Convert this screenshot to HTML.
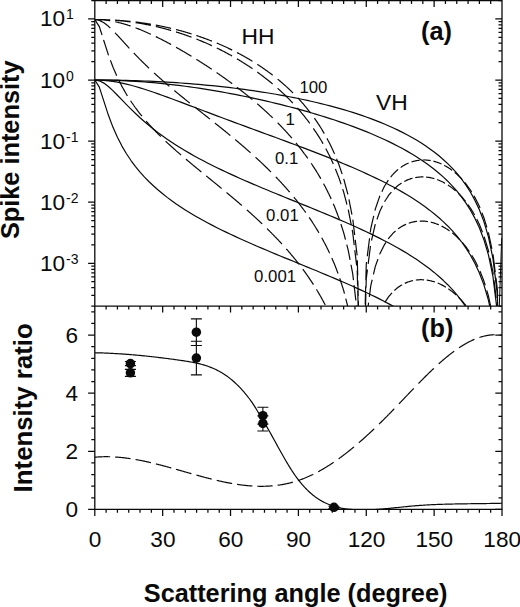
<!DOCTYPE html>
<html><head><meta charset="utf-8"><title>Spike intensity vs scattering angle</title>
<style>
html,body{margin:0;padding:0;background:#fff;}
body{width:520px;height:607px;overflow:hidden;font-family:"Liberation Sans",sans-serif;}
svg{display:block;}
text{font-family:"Liberation Sans",sans-serif;}
.tl{font-size:22.6px;}
.sup{font-size:14.0px;}
.big{font-size:22.8px;}
.pl{font-size:25.3px;font-weight:bold;}
.sm{font-size:16.8px;}
.ax{font-size:25.3px;font-weight:bold;}
</style></head><body>
<svg width="520" height="607" viewBox="0 0 520 607">
<rect width="520" height="607" fill="#fff"/>
<clipPath id="ca"><rect x="94.8" y="0.5" width="407.2" height="305.55"/></clipPath>
<clipPath id="cb"><rect x="94.8" y="306.05" width="407.2" height="203.34999999999997"/></clipPath>
<g clip-path="url(#ca)" fill="none" stroke="#0a0a0a" stroke-width="1.2" stroke-linejoin="round">
<path d="M94.80,80.01 L99.32,80.01 L103.85,80.04 L108.37,80.08 L112.90,80.14 L117.42,80.21 L121.95,80.30 L126.47,80.41 L131.00,80.53 L135.52,80.67 L140.04,80.83 L144.57,81.00 L149.09,81.19 L153.62,81.40 L158.14,81.62 L162.67,81.86 L167.19,82.12 L171.72,82.40 L176.24,82.69 L180.76,83.01 L185.29,83.34 L189.81,83.69 L194.34,84.06 L198.86,84.44 L203.39,84.85 L207.91,85.28 L212.44,85.72 L216.96,86.19 L221.48,86.67 L226.01,87.18 L230.53,87.71 L235.06,88.26 L239.58,88.83 L244.11,89.42 L248.63,90.04 L253.16,90.68 L257.68,91.35 L262.20,92.04 L266.73,92.75 L271.25,93.49 L275.78,94.26 L280.30,95.06 L284.83,95.88 L289.35,96.74 L293.88,97.62 L298.40,98.53 L302.92,99.48 L307.45,100.46 L311.97,101.48 L316.50,102.53 L321.02,103.62 L325.55,104.75 L330.07,105.92 L334.60,107.13 L339.12,108.39 L343.64,109.69 L348.17,111.04 L352.69,112.44 L357.22,113.90 L361.74,115.42 L366.27,117.00 L370.79,118.64 L375.32,120.35 L379.84,122.13 L384.36,123.99 L388.89,125.94 L393.41,127.98 L397.94,130.11 L402.46,132.35 L406.99,134.71 L411.51,137.19 L416.04,139.81 L420.56,142.58 L425.08,145.52 L429.61,148.65 L434.13,152.00 L438.66,155.58 L443.18,159.44 L447.71,163.63 L452.23,168.19 L456.76,173.19 L461.28,178.73 L465.80,184.94 L470.33,191.99 L474.85,200.14 L479.38,209.79 L483.90,221.61 L488.43,236.86 L492.95,258.37 L497.48,295.15 L502.00,2000.00"/>
<path d="M94.80,80.01 L99.32,80.02 L103.85,80.07 L108.37,80.15 L112.90,80.26 L117.42,80.41 L121.95,80.59 L126.47,80.79 L131.00,81.03 L135.52,81.31 L140.04,81.61 L144.57,81.94 L149.09,82.30 L153.62,82.69 L158.14,83.12 L162.67,83.57 L167.19,84.05 L171.72,84.55 L176.24,85.09 L180.76,85.65 L185.29,86.24 L189.81,86.86 L194.34,87.50 L198.86,88.17 L203.39,88.87 L207.91,89.59 L212.44,90.33 L216.96,91.10 L221.48,91.90 L226.01,92.72 L230.53,93.56 L235.06,94.43 L239.58,95.32 L244.11,96.24 L248.63,97.18 L253.16,98.14 L257.68,99.13 L262.20,100.14 L266.73,101.18 L271.25,102.24 L275.78,103.33 L280.30,104.44 L284.83,105.58 L289.35,106.75 L293.88,107.94 L298.40,109.16 L302.92,110.41 L307.45,111.69 L311.97,113.00 L316.50,114.34 L321.02,115.72 L325.55,117.13 L330.07,118.57 L334.60,120.05 L339.12,121.57 L343.64,123.14 L348.17,124.74 L352.69,126.39 L357.22,128.09 L361.74,129.84 L366.27,131.65 L370.79,133.51 L375.32,135.44 L379.84,137.43 L384.36,139.49 L388.89,141.64 L393.41,143.86 L397.94,146.18 L402.46,148.59 L406.99,151.11 L411.51,153.75 L416.04,156.52 L420.56,159.44 L425.08,162.52 L429.61,165.78 L434.13,169.24 L438.66,172.94 L443.18,176.91 L447.71,181.19 L452.23,185.84 L456.76,190.93 L461.28,196.54 L465.80,202.82 L470.33,209.93 L474.85,218.13 L479.38,227.82 L483.90,239.67 L488.43,254.95 L492.95,276.48 L497.48,313.28 L502.00,2000.00"/>
<path d="M94.80,80.01 L99.32,80.09 L103.85,80.36 L108.37,80.80 L112.90,81.40 L117.42,82.15 L121.95,83.05 L126.47,84.08 L131.00,85.22 L135.52,86.47 L140.04,87.81 L144.57,89.23 L149.09,90.71 L153.62,92.25 L158.14,93.83 L162.67,95.45 L167.19,97.10 L171.72,98.77 L176.24,100.46 L180.76,102.16 L185.29,103.87 L189.81,105.58 L194.34,107.29 L198.86,109.00 L203.39,110.71 L207.91,112.42 L212.44,114.12 L216.96,115.82 L221.48,117.52 L226.01,119.21 L230.53,120.89 L235.06,122.57 L239.58,124.24 L244.11,125.91 L248.63,127.58 L253.16,129.24 L257.68,130.91 L262.20,132.57 L266.73,134.23 L271.25,135.89 L275.78,137.56 L280.30,139.22 L284.83,140.90 L289.35,142.58 L293.88,144.26 L298.40,145.95 L302.92,147.66 L307.45,149.37 L311.97,151.10 L316.50,152.84 L321.02,154.60 L325.55,156.38 L330.07,158.18 L334.60,160.00 L339.12,161.85 L343.64,163.72 L348.17,165.62 L352.69,167.56 L357.22,169.53 L361.74,171.54 L366.27,173.59 L370.79,175.70 L375.32,177.85 L379.84,180.05 L384.36,182.32 L388.89,184.66 L393.41,187.07 L397.94,189.56 L402.46,192.14 L406.99,194.82 L411.51,197.61 L416.04,200.52 L420.56,203.57 L425.08,206.77 L429.61,210.15 L434.13,213.72 L438.66,217.52 L443.18,221.58 L447.71,225.95 L452.23,230.68 L456.76,235.84 L461.28,241.52 L465.80,247.85 L470.33,255.01 L474.85,263.25 L479.38,272.98 L483.90,284.86 L488.43,300.17 L492.95,321.71 L497.48,358.52 L502.00,2000.00"/>
<path d="M94.80,80.01 L99.32,80.81 L103.85,83.09 L108.37,86.50 L112.90,90.66 L117.42,95.21 L121.95,99.89 L126.47,104.56 L131.00,109.12 L135.52,113.51 L140.04,117.71 L144.57,121.73 L149.09,125.55 L153.62,129.20 L158.14,132.69 L162.67,136.02 L167.19,139.20 L171.72,142.26 L176.24,145.20 L180.76,148.03 L185.29,150.76 L189.81,153.39 L194.34,155.95 L198.86,158.43 L203.39,160.83 L207.91,163.18 L212.44,165.46 L216.96,167.69 L221.48,169.88 L226.01,172.01 L230.53,174.11 L235.06,176.17 L239.58,178.20 L244.11,180.19 L248.63,182.16 L253.16,184.10 L257.68,186.03 L262.20,187.93 L266.73,189.82 L271.25,191.69 L275.78,193.55 L280.30,195.40 L284.83,197.24 L289.35,199.08 L293.88,200.92 L298.40,202.75 L302.92,204.59 L307.45,206.43 L311.97,208.27 L316.50,210.12 L321.02,211.99 L325.55,213.86 L330.07,215.75 L334.60,217.66 L339.12,219.59 L343.64,221.53 L348.17,223.51 L352.69,225.51 L357.22,227.55 L361.74,229.62 L366.27,231.73 L370.79,233.89 L375.32,236.09 L379.84,238.35 L384.36,240.66 L388.89,243.04 L393.41,245.49 L397.94,248.02 L402.46,250.64 L406.99,253.35 L411.51,256.17 L416.04,259.11 L420.56,262.19 L425.08,265.42 L429.61,268.82 L434.13,272.41 L438.66,276.23 L443.18,280.31 L447.71,284.70 L452.23,289.44 L456.76,294.61 L461.28,300.31 L465.80,306.65 L470.33,313.82 L474.85,322.07 L479.38,331.81 L483.90,343.70 L488.43,359.01 L492.95,380.55 L497.48,417.36 L502.00,2000.00"/>
<path d="M94.80,80.01 L99.32,87.07 L103.85,101.18 L108.37,115.08 L112.90,127.09 L117.42,137.30 L121.95,146.08 L126.47,153.74 L131.00,160.52 L135.52,166.59 L140.04,172.09 L144.57,177.11 L149.09,181.75 L153.62,186.05 L158.14,190.06 L162.67,193.83 L167.19,197.38 L171.72,200.74 L176.24,203.94 L180.76,206.99 L185.29,209.92 L189.81,212.72 L194.34,215.42 L198.86,218.03 L203.39,220.55 L207.91,222.99 L212.44,225.36 L216.96,227.67 L221.48,229.93 L226.01,232.13 L230.53,234.29 L235.06,236.40 L239.58,238.47 L244.11,240.51 L248.63,242.52 L253.16,244.50 L257.68,246.46 L262.20,248.39 L266.73,250.31 L271.25,252.20 L275.78,254.09 L280.30,255.96 L284.83,257.83 L289.35,259.68 L293.88,261.54 L298.40,263.39 L302.92,265.24 L307.45,267.09 L311.97,268.95 L316.50,270.82 L321.02,272.69 L325.55,274.58 L330.07,276.48 L334.60,278.40 L339.12,280.33 L343.64,282.29 L348.17,284.28 L352.69,286.29 L357.22,288.33 L361.74,290.41 L366.27,292.53 L370.79,294.69 L375.32,296.90 L379.84,299.16 L384.36,301.48 L388.89,303.86 L393.41,306.32 L397.94,308.85 L402.46,311.47 L406.99,314.19 L411.51,317.01 L416.04,319.96 L420.56,323.04 L425.08,326.27 L429.61,329.67 L434.13,333.27 L438.66,337.09 L443.18,341.17 L447.71,345.56 L452.23,350.30 L456.76,355.48 L461.28,361.17 L465.80,367.52 L470.33,374.69 L474.85,382.94 L479.38,392.68 L483.90,404.57 L488.43,419.88 L492.95,441.43 L497.48,478.23 L502.00,2000.00"/>
<path d="M94.80,19.53 L95.42,19.53 L96.03,19.53 L96.65,19.54 L97.27,19.54 L97.88,19.55 L98.50,19.55 L99.12,19.55 L99.74,19.56 L100.35,19.58 L100.97,19.59 L101.59,19.60 L102.20,19.61 L102.82,19.63 L103.44,19.64 L104.05,19.65 L104.67,19.67 L105.29,19.69 L105.91,19.71 L106.52,19.74 L107.14,19.76 L107.76,19.78 L108.37,19.80 L108.99,19.83 L109.61,19.85 L110.22,19.88 L110.22,19.88 M115.16,20.14 L115.78,20.18 L116.39,20.22 L117.01,20.26 L117.63,20.30 L118.24,20.34 L118.86,20.39 L119.48,20.43 L120.10,20.48 L120.71,20.52 L121.33,20.57 L121.95,20.61 L122.56,20.67 L123.18,20.72 L123.80,20.78 L124.41,20.83 L125.03,20.88 L125.65,20.94 L126.27,20.99 L126.88,21.05 L127.50,21.11 L128.12,21.18 L128.73,21.24 L129.35,21.30 L129.97,21.36 L130.58,21.43 L130.58,21.43 M135.52,21.99 L136.14,22.07 L136.75,22.14 L137.37,22.22 L137.99,22.30 L138.60,22.38 L139.22,22.46 L139.84,22.54 L140.46,22.63 L141.07,22.72 L141.69,22.80 L142.31,22.89 L142.92,22.98 L143.54,23.07 L144.16,23.16 L144.77,23.25 L145.39,23.34 L146.01,23.44 L146.63,23.54 L147.24,23.63 L147.86,23.73 L148.48,23.83 L149.09,23.93 L149.71,24.03 L150.33,24.14 L150.94,24.24 L150.94,24.24 M155.78,25.10 L156.37,25.21 L156.96,25.32 L157.55,25.43 L158.14,25.54 L158.73,25.66 L159.32,25.78 L159.91,25.90 L160.50,26.02 L161.09,26.14 L161.68,26.26 L162.27,26.37 L162.86,26.50 L163.45,26.62 L164.04,26.75 L164.63,26.88 L165.22,27.01 L165.81,27.13 L166.40,27.26 L166.99,27.39 L167.58,27.52 L168.17,27.66 L168.76,27.80 L169.35,27.93 L169.95,28.07 L170.54,28.21 L171.13,28.34 L171.13,28.34 M176.04,29.55 L176.63,29.70 L177.22,29.86 L177.81,30.01 L178.40,30.17 L178.99,30.32 L179.58,30.48 L180.17,30.63 L180.76,30.79 L181.35,30.95 L181.94,31.12 L182.53,31.28 L183.13,31.45 L183.72,31.61 L184.31,31.78 L184.90,31.95 L185.49,32.11 L186.08,32.29 L186.67,32.46 L187.26,32.64 L187.85,32.81 L188.44,32.99 L189.03,33.16 L189.62,33.34 L190.21,33.52 L190.80,33.71 L191.39,33.89 L191.58,33.95 M196.30,35.47 L196.90,35.66 L197.49,35.86 L198.08,36.05 L198.67,36.25 L199.26,36.45 L199.85,36.66 L200.44,36.87 L201.03,37.07 L201.62,37.28 L202.21,37.49 L202.80,37.69 L203.39,37.90 L203.95,38.11 L204.52,38.31 L205.08,38.52 L205.65,38.73 L206.21,38.94 L206.78,39.15 L207.35,39.36 L207.91,39.56 L208.48,39.78 L209.04,40.00 L209.61,40.22 L210.17,40.44 L210.74,40.66 L211.30,40.88 L211.87,41.10 L211.87,41.10 M216.77,43.09 L217.34,43.33 L217.90,43.57 L218.47,43.81 L219.03,44.05 L219.60,44.30 L220.16,44.54 L220.73,44.78 L221.30,45.02 L221.86,45.27 L222.43,45.53 L222.99,45.78 L223.56,46.04 L224.12,46.29 L224.69,46.55 L225.25,46.80 L225.82,47.06 L226.37,47.31 L226.91,47.57 L227.46,47.83 L228.00,48.08 L228.54,48.34 L229.09,48.60 L229.63,48.85 L230.17,49.11 L230.71,49.37 L231.26,49.64 L231.80,49.91 L232.16,50.09 M237.05,52.57 L237.59,52.85 L238.13,53.13 L238.68,53.41 L239.22,53.70 L239.76,53.98 L240.31,54.28 L240.85,54.58 L241.39,54.88 L241.93,55.17 L242.48,55.47 L243.02,55.77 L243.56,56.06 L244.11,56.36 L244.63,56.66 L245.15,56.96 L245.67,57.26 L246.19,57.56 L246.72,57.86 L247.24,58.16 L247.76,58.46 L248.28,58.76 L248.81,59.06 L249.33,59.38 L249.85,59.69 L250.37,60.01 L250.89,60.32 L251.42,60.64 L251.94,60.95 L252.46,61.27 L252.46,61.27 M257.33,64.33 L257.85,64.66 L258.35,65.00 L258.85,65.33 L259.36,65.67 L259.86,66.00 L260.36,66.34 L260.86,66.67 L261.37,67.01 L261.87,67.34 L262.37,67.68 L262.87,68.03 L263.38,68.39 L263.88,68.74 L264.38,69.09 L264.89,69.44 L265.39,69.80 L265.89,70.15 L266.39,70.50 L266.89,70.85 L267.38,71.21 L267.86,71.57 L268.34,71.93 L268.83,72.28 L269.31,72.64 L269.80,73.00 L270.28,73.36 L270.77,73.71 L271.25,74.07 L271.74,74.45 L272.22,74.83 L272.71,75.20 L272.71,75.20 M277.65,79.13 L278.12,79.51 L278.59,79.90 L279.05,80.28 L279.52,80.67 L279.99,81.05 L280.46,81.44 L280.93,81.85 L281.39,82.25 L281.86,82.66 L282.33,83.07 L282.80,83.47 L283.27,83.88 L283.73,84.29 L284.20,84.69 L284.67,85.10 L285.13,85.51 L285.58,85.93 L286.03,86.35 L286.49,86.76 L286.94,87.18 L287.39,87.59 L287.84,88.01 L288.30,88.43 L288.75,88.84 L289.20,89.26 L289.64,89.68 L290.08,90.11 L290.52,90.54 L290.96,90.97 L291.39,91.40 L291.83,91.82 L292.27,92.25 L292.71,92.68 L293.00,92.97 M297.69,97.80 L298.12,98.24 L298.54,98.69 L298.95,99.14 L299.36,99.60 L299.77,100.06 L300.18,100.52 L300.59,100.98 L301.00,101.43 L301.42,101.89 L301.83,102.35 L302.24,102.81 L302.65,103.27 L303.05,103.73 L303.44,104.19 L303.83,104.65 L304.22,105.12 L304.60,105.58 L304.99,106.04 L305.38,106.51 L305.77,106.97 L306.16,107.43 L306.54,107.90 L306.93,108.36 L307.32,108.82 L307.70,109.30 L308.08,109.79 L308.45,110.27 L308.83,110.76 L309.21,111.25 L309.59,111.73 L309.96,112.22 L310.34,112.70 L310.72,113.19 L310.72,113.19 M314.35,118.14 L314.71,118.64 L315.07,119.14 L315.43,119.64 L315.78,120.14 L316.14,120.64 L316.50,121.14 L316.83,121.65 L317.16,122.15 L317.49,122.66 L317.82,123.17 L318.15,123.67 L318.48,124.18 L318.82,124.68 L319.15,125.19 L319.48,125.70 L319.81,126.20 L320.14,126.71 L320.47,127.22 L320.80,127.72 L321.13,128.23 L321.43,128.75 L321.74,129.27 L322.05,129.80 L322.36,130.32 L322.67,130.84 L322.98,131.36 L323.28,131.88 L323.59,132.40 L323.90,132.92 L324.21,133.44 L324.31,133.61 M326.96,138.36 L327.24,138.89 L327.53,139.43 L327.81,139.96 L328.09,140.49 L328.37,141.03 L328.66,141.56 L328.94,142.09 L329.22,142.63 L329.51,143.16 L329.79,143.69 L330.07,144.23 L330.33,144.77 L330.58,145.32 L330.84,145.87 L331.10,146.42 L331.35,146.96 L331.61,147.51 L331.86,148.06 L332.12,148.61 L332.38,149.16 L332.63,149.70 L332.89,150.25 L333.14,150.80 L333.40,151.35 L333.66,151.90 L333.91,152.44 L334.17,152.99 L334.42,153.54 L334.60,153.90 M336.56,158.77 L336.78,159.33 L337.01,159.89 L337.23,160.45 L337.46,161.01 L337.69,161.57 L337.91,162.14 L338.14,162.70 L338.37,163.26 L338.59,163.82 L338.82,164.38 L339.04,164.94 L339.25,165.51 L339.44,166.09 L339.64,166.66 L339.83,167.24 L340.02,167.82 L340.22,168.39 L340.41,168.97 L340.61,169.54 L340.80,170.12 L340.99,170.69 L341.19,171.27 L341.38,171.84 L341.58,172.42 L341.77,173.00 L341.96,173.57 L342.16,174.15 L342.16,174.15 M343.75,178.95 L343.90,179.53 L344.06,180.11 L344.22,180.69 L344.37,181.27 L344.53,181.86 L344.68,182.44 L344.84,183.02 L345.00,183.60 L345.15,184.18 L345.31,184.76 L345.46,185.35 L345.62,185.93 L345.78,186.51 L345.93,187.09 L346.09,187.67 L346.24,188.25 L346.40,188.84 L346.56,189.42 L346.71,190.00 L346.87,190.58 L347.02,191.16 L347.18,191.74 L347.34,192.33 L347.49,192.91 L347.65,193.49 L347.80,194.07 L347.91,194.46 M348.94,199.37 L349.06,199.96 L349.17,200.55 L349.29,201.14 L349.41,201.73 L349.52,202.32 L349.64,202.91 L349.75,203.50 L349.87,204.09 L349.99,204.68 L350.10,205.27 L350.22,205.86 L350.33,206.46 L350.45,207.05 L350.57,207.64 L350.68,208.23 L350.80,208.82 L350.91,209.41 L351.03,210.00 L351.15,210.59 L351.26,211.18 L351.38,211.77 L351.49,212.36 L351.61,212.95 L351.73,213.54 L351.84,214.13 L351.96,214.73 L351.96,214.73 M352.84,219.66 L352.91,220.26 L352.98,220.85 L353.05,221.45 L353.12,222.04 L353.19,222.64 L353.26,223.24 L353.34,223.83 L353.41,224.43 L353.48,225.03 L353.55,225.62 L353.62,226.22 L353.69,226.82 L353.76,227.41 L353.84,228.01 L353.91,228.60 L353.98,229.20 L354.05,229.80 L354.12,230.39 L354.19,230.99 L354.26,231.59 L354.34,232.18 L354.41,232.78 L354.48,233.38 L354.55,233.97 L354.62,234.57 L354.67,234.97 M355.27,239.94 L355.34,240.53 L355.41,241.13 L355.48,241.72 L355.55,242.32 L355.62,242.92 L355.69,243.51 L355.77,244.11 L355.84,244.71 L355.91,245.30 L355.98,245.90 L356.05,246.49 L356.12,247.09 L356.19,247.69 L356.27,248.28 L356.34,248.88 L356.41,249.48 L356.48,250.07 L356.55,250.67 L356.62,251.27 L356.69,251.86 L356.77,252.46 L356.84,253.05 L356.91,253.65 L356.98,254.25 L357.05,254.84 L357.12,255.44 L357.12,255.44 M357.32,260.23 L357.33,260.83 L357.35,261.43 L357.36,262.03 L357.38,262.63 L357.39,263.23 L357.41,263.83 L357.42,264.43 L357.44,265.03 L357.45,265.63 L357.47,266.23 L357.48,266.83 L357.50,267.43 L357.51,268.03 L357.53,268.63 L357.54,269.23 L357.56,269.83 L357.57,270.43 L357.59,271.03 L357.60,271.63 L357.62,272.23 L357.64,272.83 L357.65,273.43 L357.67,274.03 L357.68,274.63 L357.70,275.23 L357.71,275.63 M357.83,280.63 L357.85,281.23 L357.86,281.83 L357.88,282.43 L357.89,283.03 L357.91,283.63 L357.92,284.23 L357.94,284.83 L357.95,285.43 L357.97,286.03 L357.98,286.63 L358.00,287.23 L358.01,287.83 L358.03,288.43 L358.04,289.03 L358.06,289.63 L358.07,290.23 L358.09,290.83 L358.10,291.43 L358.12,292.03 L358.13,292.63 L358.15,293.23 L358.16,293.83 L358.18,294.43 L358.19,295.03 L358.21,295.63 L358.22,296.03 M358.34,300.83 L358.35,301.43 L358.37,302.03 L358.38,302.63 L358.40,303.23 L358.41,303.83 L358.43,304.43 L358.44,305.03 L358.46,305.63 L358.47,306.23 L358.49,306.83 L358.50,307.43 L358.52,308.03 L358.53,308.63 L358.55,309.23 L358.57,309.83 L358.58,310.43 L358.60,311.03 L358.61,311.63 L358.63,312.23 L358.64,312.83 L358.66,313.43 L358.67,314.03 L358.69,314.63 L358.70,315.23 L358.72,315.83 L358.73,316.23 M364.85,317.98 L364.87,317.38 L364.88,316.78 L364.90,316.18 L364.91,315.58 L364.93,314.98 L364.95,314.38 L364.96,313.78 L364.98,313.18 L364.99,312.58 L365.01,311.98 L365.03,311.38 L365.04,310.78 L365.05,310.58 M365.20,304.58 L365.22,303.97 L365.24,303.37 L365.25,302.77 L365.27,302.17 L365.28,301.57 L365.30,300.97 L365.31,300.37 L365.33,299.77 L365.35,299.17 L365.36,298.57 L365.38,297.97 L365.39,297.37 L365.41,296.77 L365.42,296.17 L365.44,295.57 L365.46,294.97 L365.47,294.37 L365.49,293.77 L365.50,293.17 L365.52,292.57 L365.54,291.97 L365.55,291.37 L365.57,290.77 L365.58,290.17 L365.60,289.57 L365.61,288.97 L365.63,288.37 L365.65,287.77 L365.66,287.17 L365.68,286.57 L365.69,286.17 M365.85,280.17 L365.86,279.57 L365.88,278.97 L365.89,278.37 L365.91,277.77 L365.92,277.17 L365.94,276.57 L365.96,275.97 L365.97,275.37 L365.99,274.77 L366.00,274.17 L366.02,273.57 L366.04,272.97 L366.05,272.37 L366.07,271.77 L366.08,271.17 L366.10,270.57 L366.11,269.97 L366.13,269.37 L366.15,268.76 L366.16,268.16 L366.18,267.56 L366.19,266.96 L366.21,266.36 L366.22,265.76 L366.24,265.16 L366.26,264.56 L366.29,263.96 L366.37,263.37 L366.44,262.77 L366.52,262.17 L366.54,261.98 M367.28,256.21 L367.35,255.61 L367.43,255.01 L367.51,254.42 L367.58,253.82 L367.66,253.22 L367.73,252.63 L367.81,252.03 L367.88,251.43 L367.96,250.84 L368.04,250.24 L368.11,249.64 L368.19,249.05 L368.26,248.45 L368.34,247.85 L368.42,247.26 L368.49,246.66 L368.57,246.06 L368.64,245.47 L368.72,244.87 L368.79,244.27 L368.87,243.68 L368.95,243.08 L369.02,242.48 L369.10,241.88 L369.17,241.29 L369.25,240.69 L369.33,240.09 L369.40,239.50 L369.48,238.90 L369.55,238.30 L369.55,238.30 M370.29,232.54 L370.36,231.94 L370.44,231.34 L370.51,230.75 L370.59,230.15 L370.66,229.55 L370.74,228.96 L370.84,228.36 L370.97,227.77 L371.11,227.19 L371.24,226.60 L371.38,226.01 L371.52,225.42 L371.65,224.84 L371.79,224.25 L371.92,223.66 L372.06,223.08 L372.19,222.49 L372.33,221.90 L372.47,221.31 L372.60,220.73 L372.74,220.14 L372.87,219.55 L373.01,218.96 L373.14,218.38 L373.28,217.79 L373.42,217.20 L373.55,216.62 L373.69,216.03 L373.73,215.83 M374.95,210.55 L375.09,209.96 L375.23,209.37 L375.38,208.79 L375.58,208.22 L375.77,207.65 L375.97,207.09 L376.17,206.52 L376.36,205.95 L376.56,205.38 L376.76,204.82 L376.95,204.25 L377.15,203.68 L377.35,203.11 L377.54,202.54 L377.74,201.98 L377.94,201.41 L378.14,200.84 L378.33,200.27 L378.53,199.70 L378.73,199.14 L378.92,198.57 L379.12,198.00 L379.32,197.43 L379.51,196.87 L379.71,196.30 L379.93,195.74 L379.93,195.74 M381.84,191.73 L382.10,191.19 L382.36,190.64 L382.62,190.09 L382.89,189.55 L383.15,189.00 L383.41,188.46 L383.67,187.91 L383.93,187.36 L384.19,186.82 L384.47,186.28 L384.80,185.77 L385.12,185.26 L385.44,184.75 L385.76,184.24 L386.09,183.73 L386.41,183.22 L386.73,182.71 L387.06,182.20 L387.38,181.69 L387.70,181.18 L388.03,180.66 L388.35,180.15 L388.35,180.15 M390.70,177.09 L391.09,176.62 L391.47,176.15 L391.86,175.68 L392.25,175.20 L392.64,174.73 L393.03,174.26 L393.41,173.78 L393.85,173.37 L394.29,172.95 L394.73,172.54 L395.16,172.12 L395.60,171.71 L396.04,171.29 L396.48,170.88 L396.92,170.46 L397.35,170.05 L397.79,169.64 L398.10,169.38 M400.68,167.49 L401.17,167.14 L401.65,166.78 L402.14,166.43 L402.64,166.09 L403.19,165.79 L403.73,165.49 L404.27,165.19 L404.81,164.89 L405.36,164.59 L405.90,164.29 L406.44,163.99 L406.99,163.69 L407.55,163.47 L408.12,163.24 L408.68,163.02 L408.68,163.02 M411.51,161.89 L412.10,161.74 L412.69,161.58 L413.28,161.43 L413.87,161.27 L414.46,161.12 L415.05,160.97 L415.64,160.81 L416.24,160.68 L416.86,160.59 L417.48,160.51 L418.09,160.42 L418.71,160.34 L419.33,160.25 L419.74,160.19 M422.41,160.03 L423.03,160.02 L423.64,160.00 L424.26,159.99 L424.88,159.97 L425.50,160.01 L426.11,160.06 L426.73,160.12 L427.35,160.17 L427.96,160.23 L428.58,160.29 L429.20,160.34 L429.81,160.42 L430.40,160.54 L430.59,160.59 M433.35,161.16 L433.94,161.28 L434.53,161.45 L435.12,161.64 L435.71,161.83 L436.30,162.02 L436.89,162.21 L437.48,162.40 L438.07,162.59 L438.66,162.78 L439.22,163.03 L439.79,163.27 L440.35,163.52 L440.92,163.77 L441.49,164.02 L441.49,164.02 M444.27,165.36 L444.81,165.66 L445.35,165.97 L445.90,166.27 L446.44,166.57 L446.98,166.87 L447.53,167.17 L448.04,167.50 L448.54,167.85 L449.05,168.19 L449.55,168.53 L450.05,168.87 L450.56,169.22 L451.06,169.56 L451.56,169.90 L452.06,170.25 L452.23,170.36 M454.73,172.40 L455.20,172.79 L455.66,173.17 L456.13,173.56 L456.60,173.94 L457.05,174.35 L457.49,174.78 L457.92,175.20 L458.36,175.63 L458.80,176.06 L459.24,176.48 L459.67,176.91 L460.11,177.34 L460.55,177.76 L460.99,178.19 L461.41,178.63 L461.81,179.09 L462.21,179.55 L462.34,179.70 M464.74,182.47 L465.14,182.93 L465.54,183.39 L465.92,183.86 L466.28,184.35 L466.64,184.84 L467.00,185.33 L467.35,185.82 L467.71,186.31 L468.07,186.79 L468.42,187.28 L468.78,187.77 L469.14,188.26 L469.50,188.75 L469.85,189.24 L470.21,189.73 L470.54,190.24 L470.85,190.76 L471.17,191.28 L471.49,191.80 L471.70,192.14 M473.91,195.77 L474.22,196.29 L474.54,196.81 L474.85,197.32 L475.12,197.87 L475.40,198.41 L475.67,198.95 L475.94,199.50 L476.21,200.04 L476.48,200.58 L476.75,201.13 L477.03,201.67 L477.30,202.21 L477.57,202.75 L477.84,203.30 L478.11,203.84 L478.38,204.38 L478.65,204.93 L478.93,205.47 L479.20,206.01 L479.45,206.56 L479.67,207.12 L479.90,207.68 L480.05,208.05 M481.90,212.70 L482.12,213.25 L482.34,213.81 L482.57,214.37 L482.79,214.93 L483.01,215.48 L483.23,216.04 L483.46,216.60 L483.68,217.16 L483.90,217.71 L484.08,218.29 L484.25,218.87 L484.43,219.45 L484.61,220.03 L484.78,220.61 L484.96,221.19 L485.14,221.77 L485.31,222.35 L485.49,222.93 L485.66,223.51 L485.84,224.09 L486.02,224.67 L486.19,225.25 L486.37,225.83 L486.55,226.41 L486.72,226.99 L486.84,227.38 M488.37,232.40 L488.51,232.99 L488.64,233.58 L488.76,234.17 L488.89,234.76 L489.01,235.35 L489.14,235.94 L489.26,236.53 L489.39,237.12 L489.52,237.71 L489.64,238.30 L489.77,238.89 L489.89,239.48 L490.02,240.07 L490.14,240.66 L490.27,241.25 L490.40,241.84 L490.52,242.43 L490.65,243.02 L490.77,243.61 L490.90,244.20 L491.02,244.79 L491.15,245.38 L491.28,245.97 L491.40,246.56 L491.53,247.15 L491.65,247.75 L491.78,248.34 L491.90,248.93 L491.90,248.93 M493.02,254.44 L493.10,255.04 L493.17,255.64 L493.25,256.23 L493.32,256.83 L493.39,257.43 L493.47,258.02 L493.54,258.62 L493.62,259.22 L493.69,259.82 L493.76,260.41 L493.84,261.01 L493.91,261.61 L493.98,262.20 L494.06,262.80 L494.13,263.40 L494.21,264.00 L494.28,264.59 L494.35,265.19 L494.43,265.79 L494.50,266.38 L494.57,266.98 L494.65,267.58 L494.72,268.18 L494.80,268.77 L494.87,269.37 L494.94,269.97 L495.02,270.57 L495.09,271.16 L495.16,271.76 L495.21,272.16 M495.93,277.93 L496.00,278.53 L496.07,279.13 L496.15,279.72 L496.22,280.32 L496.30,280.92 L496.37,281.51 L496.44,282.11 L496.52,282.71 L496.59,283.31 L496.66,283.90 L496.74,284.50 L496.81,285.10 L496.89,285.69 L496.96,286.29 L497.03,286.89 L497.11,287.49 L497.18,288.08 L497.25,288.68 L497.33,289.28 L497.40,289.87 L497.48,290.47 L497.48,291.07 L497.48,291.67 L497.48,292.27 L497.48,292.87 L497.48,293.47 L497.49,294.07 L497.49,294.67 L497.49,295.27 L497.49,295.87 L497.49,296.07 M497.51,302.07 L497.51,302.67 L497.51,303.27 L497.51,303.87 L497.51,304.47 L497.51,305.07 L497.52,305.67 L497.52,306.27 L497.52,306.87 L497.52,307.47 L497.52,308.07 L497.52,308.67 L497.53,309.27 L497.53,309.87 L497.53,310.47 L497.53,311.07 L497.53,311.67 L497.53,312.27 L497.53,312.87 L497.54,313.47 L497.54,314.07 L497.54,314.67 L497.54,315.27 L497.54,315.87 L497.54,316.47 L497.55,317.07 L497.55,317.67 L497.55,317.87 M94.80,19.53 L95.42,19.53 L96.03,19.54 L96.65,19.54 L97.27,19.55 L97.88,19.55 L98.50,19.56 L99.12,19.56 L99.74,19.57 L100.35,19.59 L100.97,19.61 L101.59,19.62 L102.20,19.64 L102.82,19.65 L103.44,19.67 L104.05,19.69 L104.67,19.71 L105.29,19.74 L105.91,19.76 L106.52,19.79 L107.14,19.82 L107.76,19.84 L108.37,19.87 L108.99,19.91 L109.61,19.94 L110.22,19.98 L110.22,19.98 M115.16,20.31 L115.78,20.35 L116.39,20.40 L117.01,20.45 L117.63,20.50 L118.24,20.56 L118.86,20.61 L119.48,20.67 L120.10,20.73 L120.71,20.79 L121.33,20.84 L121.95,20.90 L122.56,20.97 L123.18,21.04 L123.80,21.10 L124.41,21.17 L125.03,21.24 L125.65,21.31 L126.27,21.37 L126.88,21.45 L127.50,21.53 L128.12,21.61 L128.73,21.68 L129.35,21.76 L129.97,21.84 L130.58,21.92 L130.58,21.92 M135.52,22.62 L136.14,22.72 L136.75,22.82 L137.37,22.92 L137.99,23.02 L138.60,23.12 L139.22,23.22 L139.84,23.32 L140.46,23.42 L141.07,23.53 L141.69,23.64 L142.31,23.75 L142.92,23.86 L143.54,23.97 L144.16,24.08 L144.77,24.19 L145.36,24.31 L145.95,24.42 L146.54,24.54 L147.13,24.65 L147.72,24.77 L148.31,24.88 L148.90,25.00 L149.49,25.12 L150.08,25.25 L150.67,25.37 L150.86,25.41 M155.78,26.50 L156.37,26.63 L156.96,26.77 L157.55,26.90 L158.14,27.04 L158.73,27.18 L159.32,27.33 L159.91,27.48 L160.50,27.62 L161.09,27.77 L161.68,27.91 L162.27,28.06 L162.86,28.21 L163.45,28.37 L164.04,28.52 L164.63,28.68 L165.22,28.83 L165.81,28.99 L166.40,29.15 L166.99,29.30 L167.58,29.47 L168.17,29.63 L168.76,29.80 L169.35,29.97 L169.95,30.13 L170.54,30.30 L171.13,30.47 L171.13,30.47 M176.04,31.93 L176.63,32.12 L177.22,32.31 L177.81,32.49 L178.40,32.68 L178.99,32.87 L179.58,33.06 L180.17,33.25 L180.76,33.44 L181.35,33.63 L181.94,33.83 L182.53,34.03 L183.13,34.23 L183.72,34.43 L184.31,34.63 L184.90,34.83 L185.48,35.03 L186.04,35.23 L186.61,35.43 L187.17,35.63 L187.74,35.83 L188.31,36.03 L188.87,36.23 L189.44,36.44 L190.00,36.64 L190.57,36.85 L191.13,37.06 L191.51,37.20 M196.41,39.08 L196.98,39.30 L197.54,39.53 L198.11,39.75 L198.67,39.97 L199.24,40.20 L199.80,40.44 L200.37,40.67 L200.94,40.90 L201.50,41.14 L202.07,41.37 L202.63,41.61 L203.20,41.84 L203.76,42.08 L204.33,42.33 L204.89,42.57 L205.46,42.82 L206.03,43.06 L206.59,43.31 L207.16,43.55 L207.72,43.80 L208.29,44.05 L208.85,44.31 L209.42,44.56 L209.98,44.82 L210.55,45.08 L211.12,45.33 L211.68,45.59 L211.87,45.68 M216.78,48.00 L217.32,48.26 L217.86,48.53 L218.41,48.80 L218.95,49.07 L219.49,49.34 L220.04,49.61 L220.58,49.88 L221.12,50.15 L221.67,50.43 L222.21,50.71 L222.75,50.99 L223.29,51.27 L223.84,51.55 L224.38,51.84 L224.92,52.12 L225.47,52.40 L226.01,52.68 L226.55,52.98 L227.09,53.27 L227.64,53.57 L228.18,53.86 L228.72,54.16 L229.27,54.45 L229.81,54.75 L230.35,55.04 L230.88,55.34 L231.40,55.63 L231.93,55.93 L232.10,56.03 M236.97,58.83 L237.49,59.14 L238.02,59.45 L238.54,59.76 L239.06,60.07 L239.58,60.38 L240.10,60.70 L240.63,61.03 L241.15,61.35 L241.67,61.67 L242.19,61.99 L242.71,62.32 L243.24,62.64 L243.76,62.96 L244.28,63.29 L244.80,63.63 L245.32,63.96 L245.85,64.30 L246.37,64.64 L246.89,64.97 L247.41,65.31 L247.94,65.65 L248.46,65.98 L248.97,66.32 L249.47,66.66 L249.97,67.00 L250.47,67.34 L250.98,67.68 L251.48,68.02 L251.98,68.36 L252.49,68.70 L252.49,68.70 M257.34,72.10 L257.84,72.46 L258.33,72.81 L258.81,73.17 L259.30,73.53 L259.78,73.89 L260.27,74.24 L260.75,74.60 L261.23,74.96 L261.72,75.31 L262.20,75.67 L262.69,76.05 L263.17,76.42 L263.66,76.79 L264.14,77.17 L264.63,77.54 L265.11,77.92 L265.60,78.29 L266.08,78.66 L266.57,79.04 L267.04,79.42 L267.51,79.79 L267.98,80.17 L268.45,80.55 L268.91,80.93 L269.38,81.31 L269.85,81.69 L270.32,82.06 L270.79,82.44 L271.25,82.82 L271.72,83.22 L272.19,83.62 L272.66,84.01 L272.66,84.01 M277.59,88.27 L278.04,88.68 L278.49,89.08 L278.94,89.48 L279.40,89.89 L279.85,90.29 L280.30,90.69 L280.74,91.10 L281.18,91.51 L281.62,91.92 L282.05,92.33 L282.49,92.75 L282.93,93.16 L283.37,93.57 L283.81,93.98 L284.24,94.39 L284.68,94.80 L285.12,95.22 L285.56,95.66 L285.99,96.09 L286.43,96.52 L286.87,96.96 L287.31,97.39 L287.75,97.82 L288.18,98.26 L288.62,98.69 L289.06,99.12 L289.49,99.56 L289.92,100.00 L290.34,100.45 L290.76,100.89 L291.19,101.33 L291.61,101.78 L292.04,102.22 L292.46,102.67 L292.89,103.11 L292.89,103.11 M297.30,107.95 L297.71,108.40 L298.13,108.86 L298.53,109.32 L298.93,109.79 L299.33,110.26 L299.73,110.73 L300.13,111.20 L300.53,111.68 L300.93,112.15 L301.33,112.62 L301.73,113.09 L302.13,113.56 L302.53,114.03 L302.92,114.50 L303.30,114.98 L303.68,115.45 L304.06,115.93 L304.43,116.40 L304.81,116.88 L305.19,117.36 L305.56,117.83 L305.94,118.31 L306.32,118.78 L306.69,119.26 L307.07,119.73 L307.45,120.21 L307.81,120.69 L308.16,121.18 L308.52,121.66 L308.88,122.14 L309.23,122.63 L309.59,123.11 L309.83,123.43 M313.33,128.32 L313.67,128.82 L314.01,129.31 L314.35,129.81 L314.69,130.31 L315.03,130.80 L315.37,131.30 L315.71,131.80 L316.05,132.29 L316.38,132.79 L316.71,133.30 L317.04,133.81 L317.36,134.33 L317.68,134.84 L318.01,135.36 L318.33,135.87 L318.65,136.38 L318.98,136.90 L319.30,137.41 L319.62,137.93 L319.94,138.44 L320.27,138.96 L320.59,139.47 L320.91,139.99 L321.22,140.51 L321.52,141.04 L321.83,141.57 L322.13,142.09 L322.43,142.62 L322.73,143.15 L323.03,143.68 L323.03,143.68 M325.82,148.61 L326.10,149.15 L326.38,149.69 L326.65,150.23 L326.93,150.77 L327.21,151.31 L327.49,151.85 L327.76,152.39 L328.04,152.93 L328.32,153.47 L328.59,154.01 L328.87,154.54 L329.15,155.08 L329.42,155.62 L329.70,156.16 L329.98,156.70 L330.24,157.25 L330.49,157.80 L330.74,158.35 L330.99,158.91 L331.24,159.46 L331.50,160.01 L331.75,160.57 L332.00,161.12 L332.25,161.67 L332.50,162.22 L332.75,162.78 L333.00,163.33 L333.25,163.88 L333.25,163.88 M335.41,168.90 L335.63,169.47 L335.86,170.03 L336.08,170.60 L336.30,171.16 L336.52,171.73 L336.75,172.29 L336.97,172.86 L337.19,173.42 L337.41,173.99 L337.64,174.55 L337.86,175.12 L338.08,175.68 L338.30,176.25 L338.53,176.81 L338.75,177.38 L338.97,177.94 L339.18,178.51 L339.37,179.08 L339.56,179.65 L339.75,180.22 L339.94,180.79 L340.13,181.36 L340.31,181.93 L340.50,182.50 L340.69,183.07 L340.88,183.64 L341.07,184.21 L341.07,184.21 M342.70,189.16 L342.89,189.73 L343.08,190.30 L343.27,190.87 L343.46,191.44 L343.64,192.01 L343.80,192.59 L343.95,193.18 L344.11,193.76 L344.26,194.34 L344.42,194.93 L344.57,195.51 L344.72,196.09 L344.88,196.68 L345.03,197.26 L345.19,197.85 L345.34,198.43 L345.50,199.01 L345.65,199.60 L345.80,200.18 L345.96,200.76 L346.11,201.35 L346.27,201.93 L346.42,202.52 L346.58,203.10 L346.73,203.68 L346.88,204.27 L346.99,204.66 M348.25,209.52 L348.36,210.12 L348.48,210.71 L348.59,211.30 L348.71,211.89 L348.82,212.48 L348.94,213.08 L349.05,213.67 L349.17,214.26 L349.28,214.85 L349.40,215.44 L349.51,216.04 L349.63,216.63 L349.74,217.22 L349.86,217.81 L349.97,218.40 L350.09,219.00 L350.20,219.59 L350.32,220.18 L350.43,220.77 L350.55,221.37 L350.66,221.96 L350.78,222.55 L350.89,223.14 L351.01,223.73 L351.12,224.33 L351.24,224.92 L351.24,224.92 M352.19,229.85 L352.31,230.44 L352.42,231.03 L352.54,231.63 L352.65,232.22 L352.74,232.81 L352.81,233.41 L352.88,234.01 L352.95,234.61 L353.02,235.20 L353.10,235.80 L353.17,236.40 L353.24,236.99 L353.31,237.59 L353.38,238.19 L353.45,238.78 L353.52,239.38 L353.59,239.98 L353.66,240.58 L353.74,241.17 L353.81,241.77 L353.88,242.37 L353.95,242.96 L354.02,243.56 L354.09,244.16 L354.16,244.75 L354.21,245.15 M354.80,250.13 L354.87,250.72 L354.94,251.32 L355.01,251.92 L355.09,252.52 L355.16,253.11 L355.23,253.71 L355.30,254.31 L355.37,254.90 L355.44,255.50 L355.51,256.10 L355.58,256.69 L355.65,257.29 L355.73,257.89 L355.80,258.49 L355.87,259.08 L355.94,259.68 L356.01,260.28 L356.08,260.87 L356.15,261.47 L356.22,262.07 L356.29,262.66 L356.37,263.26 L356.44,263.86 L356.51,264.46 L356.58,265.05 L356.63,265.45 M357.22,270.43 L357.23,271.03 L357.25,271.63 L357.26,272.23 L357.28,272.83 L357.29,273.43 L357.31,274.03 L357.32,274.63 L357.34,275.23 L357.35,275.83 L357.37,276.43 L357.38,277.03 L357.40,277.63 L357.41,278.23 L357.43,278.83 L357.44,279.43 L357.46,280.03 L357.47,280.63 L357.49,281.23 L357.50,281.83 L357.52,282.43 L357.53,283.03 L357.55,283.63 L357.56,284.23 L357.58,284.83 L357.59,285.43 L357.60,285.83 M357.72,290.63 L357.74,291.23 L357.76,291.83 L357.77,292.43 L357.79,293.03 L357.80,293.63 L357.82,294.23 L357.83,294.83 L357.85,295.43 L357.86,296.03 L357.88,296.63 L357.89,297.23 L357.91,297.83 L357.92,298.43 L357.94,299.03 L357.95,299.63 L357.97,300.23 L357.98,300.83 L358.00,301.43 L358.01,302.03 L358.03,302.63 L358.04,303.23 L358.06,303.83 L358.07,304.43 L358.09,305.03 L358.10,305.63 L358.11,306.03 M358.24,311.03 L358.25,311.63 L358.27,312.23 L358.28,312.83 L358.30,313.43 L358.31,314.03 L358.33,314.63 L358.34,315.23 L358.36,315.83 L358.37,316.43 L358.39,317.03 L358.40,317.63 L358.41,318.03 M365.39,312.02 L365.41,311.42 L365.42,310.82 L365.44,310.22 L365.46,309.62 L365.47,309.02 L365.49,308.42 L365.50,307.82 L365.52,307.22 L365.53,306.62 L365.55,306.02 L365.57,305.42 L365.58,304.82 L365.60,304.22 L365.61,303.62 L365.63,303.02 L365.65,302.42 L365.66,301.82 L365.68,301.22 L365.69,300.62 L365.71,300.02 L365.72,299.42 L365.74,298.82 L365.76,298.22 L365.77,297.62 L365.79,297.02 L365.80,296.42 L365.82,295.82 L365.83,295.22 L365.85,294.62 L365.87,294.02 L365.88,293.62 M366.03,287.62 L366.05,287.02 L366.07,286.42 L366.08,285.82 L366.10,285.22 L366.11,284.62 L366.13,284.02 L366.15,283.42 L366.16,282.82 L366.18,282.22 L366.19,281.62 L366.21,281.02 L366.22,280.42 L366.24,279.82 L366.26,279.22 L366.29,278.62 L366.37,278.02 L366.44,277.43 L366.52,276.83 L366.60,276.23 L366.67,275.64 L366.75,275.04 L366.83,274.44 L366.90,273.85 L366.98,273.25 L367.05,272.65 L367.13,272.06 L367.21,271.46 L367.28,270.87 L367.36,270.27 L367.44,269.67 L367.46,269.47 M368.17,263.91 L368.25,263.31 L368.33,262.72 L368.40,262.12 L368.48,261.52 L368.55,260.93 L368.63,260.33 L368.71,259.73 L368.78,259.14 L368.86,258.54 L368.94,257.94 L369.01,257.35 L369.09,256.75 L369.16,256.16 L369.24,255.56 L369.32,254.96 L369.39,254.37 L369.47,253.77 L369.55,253.17 L369.62,252.58 L369.70,251.98 L369.77,251.38 L369.85,250.79 L369.93,250.19 L370.00,249.60 L370.08,249.00 L370.16,248.40 L370.23,247.81 L370.31,247.21 L370.38,246.61 L370.46,246.02 L370.46,246.02 M371.48,240.50 L371.61,239.91 L371.75,239.33 L371.89,238.74 L372.03,238.15 L372.16,237.57 L372.30,236.98 L372.44,236.39 L372.57,235.81 L372.71,235.22 L372.85,234.63 L372.98,234.05 L373.12,233.46 L373.26,232.87 L373.40,232.29 L373.53,231.70 L373.67,231.11 L373.81,230.53 L373.94,229.94 L374.08,229.35 L374.22,228.76 L374.36,228.18 L374.49,227.59 L374.63,227.00 L374.77,226.42 L374.90,225.83 L375.04,225.24 L375.18,224.66 L375.32,224.07 L375.32,224.07 M376.98,219.35 L377.18,218.78 L377.38,218.21 L377.58,217.64 L377.78,217.08 L377.98,216.51 L378.18,215.94 L378.38,215.38 L378.58,214.81 L378.78,214.24 L378.98,213.68 L379.17,213.11 L379.37,212.54 L379.57,211.97 L379.77,211.41 L380.02,210.86 L380.28,210.31 L380.55,209.77 L380.82,209.22 L381.08,208.68 L381.35,208.13 L381.61,207.59 L381.88,207.04 L382.15,206.50 L382.41,205.95 L382.50,205.77 M384.47,201.79 L384.81,201.28 L385.14,200.77 L385.47,200.26 L385.80,199.75 L386.13,199.24 L386.46,198.73 L386.79,198.22 L387.12,197.71 L387.45,197.20 L387.79,196.70 L388.12,196.19 L388.45,195.68 L388.78,195.17 L389.16,194.68 L389.55,194.21 L389.95,193.74 L390.35,193.27 L390.75,192.80 L391.15,192.33 L391.42,192.02 M393.87,189.26 L394.32,188.85 L394.77,188.44 L395.22,188.02 L395.68,187.61 L396.13,187.20 L396.58,186.79 L397.03,186.38 L397.49,185.97 L397.94,185.56 L398.44,185.21 L398.94,184.87 L399.45,184.52 L399.95,184.17 L400.45,183.82 L400.95,183.47 L401.46,183.12 L401.62,183.01 M404.27,181.50 L404.81,181.22 L405.36,180.94 L405.90,180.66 L406.44,180.38 L406.99,180.10 L407.55,179.89 L408.12,179.69 L408.68,179.48 L409.25,179.28 L409.81,179.07 L410.38,178.87 L410.95,178.66 L411.51,178.46 L412.10,178.32 L412.49,178.23 M415.25,177.60 L415.84,177.47 L416.45,177.38 L417.06,177.31 L417.68,177.25 L418.30,177.18 L418.91,177.11 L419.53,177.05 L420.15,176.98 L420.77,176.94 L421.38,176.94 L422.00,176.95 L422.62,176.95 L423.23,176.95 L423.44,176.95 M426.11,177.09 L426.73,177.16 L427.35,177.23 L427.96,177.31 L428.58,177.38 L429.20,177.46 L429.81,177.55 L430.40,177.69 L430.99,177.83 L431.58,177.97 L432.17,178.11 L432.76,178.24 L433.35,178.38 L433.94,178.52 L434.33,178.64 M437.08,179.59 L437.67,179.80 L438.26,180.00 L438.85,180.23 L439.41,180.49 L439.98,180.75 L440.54,181.01 L441.11,181.27 L441.67,181.53 L442.24,181.79 L442.81,182.05 L443.36,182.32 L443.88,182.63 L444.40,182.93 L444.92,183.23 L445.10,183.33 M447.87,184.96 L448.38,185.31 L448.88,185.66 L449.38,186.01 L449.89,186.37 L450.39,186.72 L450.89,187.07 L451.39,187.43 L451.90,187.78 L452.39,188.14 L452.86,188.54 L453.32,188.93 L453.79,189.32 L454.26,189.71 L454.73,190.10 L455.20,190.50 L455.66,190.89 L455.66,190.89 M458.22,193.25 L458.65,193.68 L459.09,194.12 L459.53,194.55 L459.97,194.98 L460.40,195.42 L460.84,195.85 L461.28,196.29 L461.68,196.75 L462.08,197.22 L462.48,197.69 L462.88,198.15 L463.28,198.62 L463.68,199.09 L464.07,199.55 L464.47,200.02 L464.87,200.48 L465.27,200.95 L465.54,201.26 M467.95,204.54 L468.30,205.03 L468.66,205.53 L469.02,206.02 L469.38,206.51 L469.73,207.01 L470.09,207.50 L470.43,208.01 L470.75,208.53 L471.07,209.05 L471.38,209.57 L471.70,210.09 L472.01,210.62 L472.33,211.14 L472.64,211.66 L472.96,212.18 L473.28,212.70 L473.59,213.23 L473.91,213.75 L474.22,214.27 L474.54,214.79 L474.64,214.96 M476.75,219.13 L477.03,219.68 L477.30,220.22 L477.57,220.77 L477.84,221.32 L478.11,221.86 L478.38,222.41 L478.65,222.95 L478.93,223.50 L479.20,224.04 L479.45,224.59 L479.67,225.15 L479.90,225.71 L480.12,226.27 L480.34,226.83 L480.56,227.39 L480.79,227.95 L481.01,228.51 L481.23,229.07 L481.45,229.63 L481.68,230.19 L481.90,230.75 L482.12,231.31 L482.34,231.87 L482.49,232.24 M484.20,236.75 L484.37,237.33 L484.55,237.91 L484.72,238.49 L484.90,239.07 L485.08,239.66 L485.25,240.24 L485.43,240.82 L485.61,241.40 L485.78,241.98 L485.96,242.56 L486.14,243.14 L486.31,243.72 L486.49,244.30 L486.66,244.88 L486.84,245.46 L487.02,246.05 L487.19,246.63 L487.37,247.21 L487.55,247.79 L487.72,248.37 L487.90,248.95 L488.07,249.53 L488.25,250.11 L488.43,250.69 L488.55,251.28 L488.68,251.87 L488.76,252.27 M489.93,257.78 L490.06,258.37 L490.19,258.96 L490.31,259.55 L490.44,260.14 L490.56,260.74 L490.69,261.33 L490.81,261.92 L490.94,262.51 L491.07,263.10 L491.19,263.69 L491.32,264.28 L491.44,264.87 L491.57,265.46 L491.69,266.05 L491.82,266.64 L491.95,267.23 L492.07,267.82 L492.20,268.42 L492.32,269.01 L492.45,269.60 L492.57,270.19 L492.70,270.78 L492.83,271.37 L492.95,271.96 L493.02,272.56 L493.10,273.15 L493.17,273.75 L493.25,274.35 L493.27,274.55 M493.98,280.32 L494.06,280.92 L494.13,281.52 L494.21,282.12 L494.28,282.71 L494.35,283.31 L494.43,283.91 L494.50,284.51 L494.57,285.10 L494.65,285.70 L494.72,286.30 L494.80,286.89 L494.87,287.49 L494.94,288.09 L495.02,288.69 L495.09,289.28 L495.16,289.88 L495.24,290.48 L495.31,291.08 L495.39,291.67 L495.46,292.27 L495.53,292.87 L495.61,293.47 L495.68,294.06 L495.75,294.66 L495.83,295.26 L495.90,295.86 L495.98,296.45 L496.05,297.05 L496.12,297.65 L496.17,298.05 M496.89,303.82 L496.96,304.42 L497.03,305.02 L497.11,305.61 L497.18,306.21 L497.25,306.81 L497.33,307.40 L497.40,308.00 L497.48,308.60 L497.48,309.20 L497.48,309.80 L497.48,310.40 L497.48,311.00 L497.48,311.60 L497.49,312.20 L497.49,312.80 L497.49,313.40 L497.49,314.00 L497.49,314.60 L497.49,315.20 L497.49,315.80 L497.50,316.40 L497.50,317.00 L497.50,317.60 L497.50,318.00 M94.80,19.53 L95.42,19.54 L96.03,19.56 L96.65,19.57 L97.27,19.59 L97.88,19.60 L98.50,19.62 L99.12,19.63 L99.74,19.67 L100.35,19.71 L100.97,19.76 L101.59,19.80 L102.20,19.85 L102.82,19.89 L103.44,19.94 L104.05,19.99 L104.67,20.07 L105.29,20.14 L105.91,20.22 L106.52,20.29 L107.14,20.36 L107.76,20.44 L108.37,20.51 L108.99,20.62 L109.61,20.72 L110.22,20.82 L110.22,20.82 M115.26,21.77 L115.85,21.89 L116.44,22.01 L117.03,22.14 L117.62,22.27 L118.21,22.42 L118.80,22.57 L119.39,22.72 L119.98,22.87 L120.57,23.02 L121.16,23.17 L121.75,23.31 L122.34,23.48 L122.93,23.65 L123.52,23.82 L124.11,23.99 L124.70,24.17 L125.29,24.34 L125.88,24.51 L126.47,24.68 L127.06,24.87 L127.65,25.07 L128.24,25.26 L128.83,25.45 L129.42,25.65 L130.01,25.84 L130.60,26.03 L130.60,26.03 M135.52,27.79 L136.09,28.01 L136.65,28.23 L137.22,28.45 L137.78,28.67 L138.35,28.89 L138.91,29.11 L139.48,29.33 L140.04,29.56 L140.61,29.79 L141.18,30.03 L141.74,30.26 L142.31,30.50 L142.87,30.74 L143.44,30.97 L144.00,31.21 L144.57,31.45 L145.13,31.70 L145.70,31.95 L146.27,32.20 L146.83,32.45 L147.40,32.70 L147.96,32.95 L148.53,33.20 L149.09,33.45 L149.66,33.71 L150.22,33.98 L150.79,34.24 L150.98,34.33 M155.79,36.61 L156.33,36.88 L156.88,37.14 L157.42,37.40 L157.96,37.67 L158.50,37.94 L159.05,38.21 L159.59,38.49 L160.13,38.76 L160.68,39.04 L161.22,39.31 L161.76,39.59 L162.30,39.86 L162.85,40.14 L163.39,40.42 L163.93,40.71 L164.48,40.99 L165.02,41.27 L165.56,41.56 L166.11,41.84 L166.65,42.13 L167.19,42.41 L167.73,42.70 L168.28,43.00 L168.82,43.29 L169.36,43.58 L169.91,43.88 L170.45,44.17 L170.99,44.46 L171.17,44.56 M176.06,47.26 L176.59,47.56 L177.11,47.86 L177.63,48.16 L178.15,48.45 L178.68,48.75 L179.20,49.05 L179.72,49.35 L180.24,49.64 L180.76,49.94 L181.29,50.25 L181.81,50.55 L182.33,50.86 L182.85,51.16 L183.37,51.47 L183.90,51.77 L184.42,52.07 L184.94,52.38 L185.46,52.69 L185.98,53.00 L186.51,53.31 L187.03,53.62 L187.55,53.93 L188.07,54.25 L188.60,54.56 L189.12,54.87 L189.64,55.18 L190.16,55.50 L190.68,55.82 L191.21,56.14 L191.55,56.35 M196.43,59.35 L196.95,59.68 L197.47,60.01 L197.99,60.33 L198.51,60.66 L199.04,60.99 L199.56,61.32 L200.08,61.65 L200.60,61.99 L201.12,62.32 L201.65,62.65 L202.17,62.98 L202.69,63.32 L203.21,63.65 L203.72,63.98 L204.22,64.31 L204.73,64.64 L205.23,64.96 L205.73,65.29 L206.24,65.62 L206.74,65.95 L207.24,66.27 L207.74,66.60 L208.25,66.93 L208.75,67.27 L209.25,67.60 L209.75,67.94 L210.26,68.27 L210.76,68.61 L211.26,68.94 L211.77,69.28 L211.77,69.28 M216.62,72.57 L217.13,72.92 L217.63,73.27 L218.13,73.62 L218.64,73.97 L219.14,74.32 L219.64,74.67 L220.14,75.02 L220.65,75.37 L221.15,75.72 L221.65,76.07 L222.15,76.43 L222.66,76.78 L223.16,77.14 L223.66,77.50 L224.17,77.86 L224.67,78.21 L225.17,78.57 L225.67,78.93 L226.18,79.29 L226.68,79.66 L227.18,80.02 L227.68,80.39 L228.19,80.76 L228.69,81.12 L229.19,81.49 L229.70,81.85 L230.20,82.22 L230.69,82.58 L231.18,82.95 L231.66,83.31 L232.15,83.67 L232.15,83.67 M237.00,87.32 L237.48,87.69 L237.97,88.06 L238.45,88.43 L238.94,88.80 L239.42,89.18 L239.91,89.55 L240.39,89.93 L240.87,90.31 L241.36,90.69 L241.84,91.07 L242.33,91.45 L242.81,91.83 L243.30,92.22 L243.78,92.60 L244.26,92.97 L244.73,93.35 L245.20,93.73 L245.67,94.11 L246.13,94.48 L246.60,94.86 L247.07,95.24 L247.54,95.62 L248.01,95.99 L248.48,96.37 L248.94,96.76 L249.41,97.14 L249.88,97.53 L250.35,97.92 L250.82,98.31 L251.28,98.70 L251.75,99.08 L252.22,99.47 L252.38,99.60 M257.21,103.71 L257.68,104.11 L258.13,104.51 L258.58,104.91 L259.04,105.31 L259.49,105.70 L259.94,106.10 L260.39,106.50 L260.85,106.90 L261.30,107.30 L261.75,107.70 L262.20,108.10 L262.66,108.51 L263.11,108.92 L263.56,109.33 L264.01,109.74 L264.47,110.15 L264.92,110.57 L265.37,110.98 L265.82,111.39 L266.28,111.80 L266.73,112.21 L267.17,112.62 L267.60,113.04 L268.04,113.45 L268.48,113.86 L268.92,114.27 L269.36,114.68 L269.79,115.10 L270.23,115.51 L270.67,115.92 L271.11,116.33 L271.55,116.75 L271.98,117.18 L272.42,117.61 L272.71,117.89 M277.62,122.75 L278.04,123.18 L278.46,123.61 L278.89,124.04 L279.31,124.47 L279.74,124.90 L280.16,125.33 L280.58,125.77 L281.01,126.22 L281.43,126.67 L281.86,127.12 L282.28,127.56 L282.71,128.01 L283.13,128.46 L283.55,128.91 L283.98,129.35 L284.40,129.80 L284.83,130.25 L285.24,130.70 L285.65,131.16 L286.06,131.61 L286.47,132.06 L286.88,132.52 L287.29,132.97 L287.71,133.42 L288.12,133.88 L288.53,134.33 L288.94,134.79 L289.35,135.24 L289.75,135.70 L290.15,136.16 L290.55,136.62 L290.95,137.08 L291.35,137.54 L291.75,138.00 L291.88,138.16 M295.94,142.97 L296.33,143.44 L296.72,143.92 L297.11,144.39 L297.50,144.86 L297.88,145.33 L298.27,145.80 L298.65,146.28 L299.03,146.76 L299.41,147.24 L299.78,147.72 L300.16,148.21 L300.54,148.69 L300.91,149.17 L301.29,149.66 L301.67,150.14 L302.04,150.62 L302.42,151.10 L302.80,151.59 L303.16,152.07 L303.52,152.56 L303.88,153.04 L304.23,153.53 L304.59,154.01 L304.95,154.50 L305.31,154.98 L305.66,155.47 L306.02,155.95 L306.38,156.44 L306.73,156.92 L307.09,157.40 L307.45,157.89 L307.80,158.39 L307.80,158.39 M311.16,163.26 L311.51,163.76 L311.86,164.27 L312.19,164.78 L312.53,165.29 L312.86,165.80 L313.19,166.32 L313.52,166.83 L313.85,167.35 L314.18,167.86 L314.51,168.37 L314.84,168.89 L315.17,169.40 L315.50,169.91 L315.84,170.43 L316.17,170.94 L316.50,171.45 L316.81,171.97 L317.11,172.49 L317.42,173.01 L317.73,173.52 L318.04,174.04 L318.35,174.56 L318.66,175.08 L318.97,175.59 L319.27,176.11 L319.58,176.63 L319.89,177.15 L320.20,177.66 L320.51,178.18 L320.82,178.70 L320.82,178.70 M323.53,183.63 L323.81,184.16 L324.10,184.69 L324.39,185.21 L324.68,185.74 L324.97,186.27 L325.26,186.80 L325.55,187.33 L325.81,187.87 L326.08,188.41 L326.35,188.95 L326.61,189.48 L326.88,190.02 L327.14,190.56 L327.41,191.10 L327.68,191.64 L327.94,192.18 L328.21,192.72 L328.47,193.26 L328.74,193.79 L329.01,194.33 L329.27,194.87 L329.54,195.41 L329.80,195.95 L330.07,196.49 L330.31,197.04 L330.56,197.59 L330.80,198.14 L331.04,198.69 L331.20,199.06 M333.30,203.84 L333.55,204.39 L333.79,204.94 L334.03,205.49 L334.27,206.04 L334.51,206.59 L334.74,207.15 L334.95,207.71 L335.17,208.28 L335.39,208.84 L335.60,209.40 L335.82,209.96 L336.03,210.53 L336.25,211.09 L336.46,211.65 L336.68,212.21 L336.89,212.78 L337.11,213.34 L337.32,213.90 L337.54,214.46 L337.76,215.03 L337.97,215.59 L338.19,216.15 L338.40,216.71 L338.62,217.28 L338.83,217.84 L339.05,218.40 L339.24,218.97 L339.37,219.36 M340.92,224.15 L341.10,224.73 L341.29,225.30 L341.48,225.88 L341.66,226.45 L341.85,227.03 L342.03,227.60 L342.22,228.18 L342.40,228.76 L342.59,229.33 L342.78,229.91 L342.96,230.48 L343.15,231.06 L343.33,231.63 L343.52,232.21 L343.70,232.79 L343.85,233.37 L344.00,233.96 L344.15,234.55 L344.31,235.14 L344.46,235.72 L344.61,236.31 L344.76,236.90 L344.92,237.48 L345.07,238.07 L345.22,238.66 L345.37,239.25 L345.47,239.64 M346.75,244.53 L346.90,245.12 L347.05,245.70 L347.20,246.29 L347.36,246.88 L347.51,247.47 L347.66,248.05 L347.81,248.64 L347.97,249.23 L348.12,249.81 L348.24,250.40 L348.36,250.99 L348.47,251.58 L348.58,252.17 L348.70,252.76 L348.81,253.35 L348.92,253.94 L349.04,254.53 L349.15,255.12 L349.26,255.71 L349.38,256.29 L349.49,256.88 L349.60,257.47 L349.71,258.06 L349.83,258.65 L349.94,259.24 L350.05,259.83 L350.05,259.83 M351.00,264.74 L351.11,265.33 L351.22,265.92 L351.34,266.51 L351.45,267.10 L351.56,267.69 L351.68,268.28 L351.79,268.87 L351.90,269.46 L352.01,270.04 L352.13,270.63 L352.24,271.22 L352.35,271.81 L352.47,272.40 L352.58,272.99 L352.69,273.58 L352.76,274.18 L352.83,274.78 L352.91,275.37 L352.98,275.97 L353.05,276.57 L353.12,277.17 L353.19,277.77 L353.26,278.37 L353.33,278.96 L353.40,279.56 L353.47,280.16 L353.47,280.16 M354.06,285.14 L354.13,285.74 L354.20,286.34 L354.27,286.94 L354.34,287.54 L354.41,288.14 L354.48,288.73 L354.55,289.33 L354.63,289.93 L354.70,290.53 L354.77,291.13 L354.84,291.72 L354.91,292.32 L354.98,292.92 L355.05,293.52 L355.12,294.12 L355.19,294.71 L355.26,295.31 L355.33,295.91 L355.40,296.51 L355.47,297.11 L355.54,297.71 L355.62,298.30 L355.69,298.90 L355.76,299.50 L355.83,300.10 L355.87,300.50 M356.46,305.48 L356.53,306.08 L356.61,306.68 L356.68,307.28 L356.75,307.87 L356.82,308.47 L356.89,309.07 L356.96,309.67 L357.03,310.27 L357.10,310.86 L357.17,311.46 L357.22,312.06 L357.24,312.66 L357.25,313.26 L357.27,313.86 L357.28,314.46 L357.30,315.06 L357.31,315.66 L357.33,316.26 L357.34,316.86 L357.36,317.46 L357.37,317.86 M366.62,317.98 L366.70,317.39 L366.78,316.79 L366.85,316.20 L366.93,315.60 L367.01,315.00 L367.08,314.41 L367.16,313.81 L367.24,313.22 L367.31,312.62 L367.39,312.02 L367.47,311.43 L367.54,310.83 L367.62,310.24 L367.70,309.64 L367.77,309.05 L367.85,308.45 L367.93,307.85 L368.00,307.26 L368.08,306.66 L368.16,306.07 L368.23,305.47 L368.31,304.88 L368.39,304.28 L368.46,303.68 L368.54,303.09 L368.59,302.69 M369.33,296.93 L369.41,296.34 L369.49,295.74 L369.56,295.15 L369.64,294.55 L369.72,293.95 L369.79,293.36 L369.87,292.76 L369.95,292.17 L370.02,291.57 L370.10,290.98 L370.18,290.38 L370.25,289.78 L370.33,289.19 L370.41,288.59 L370.48,288.00 L370.56,287.40 L370.64,286.81 L370.71,286.21 L370.79,285.61 L370.93,285.03 L371.07,284.44 L371.21,283.86 L371.35,283.27 L371.48,282.69 L371.62,282.10 L371.76,281.51 L371.90,280.93 L372.04,280.34 L372.18,279.76 L372.18,279.76 M373.42,274.48 L373.56,273.90 L373.70,273.31 L373.84,272.73 L373.98,272.14 L374.12,271.56 L374.25,270.97 L374.39,270.38 L374.53,269.80 L374.67,269.21 L374.81,268.63 L374.95,268.04 L375.08,267.46 L375.22,266.87 L375.38,266.29 L375.59,265.72 L375.79,265.16 L375.99,264.59 L376.19,264.03 L376.40,263.46 L376.60,262.90 L376.80,262.33 L377.00,261.76 L377.21,261.20 L377.41,260.63 L377.61,260.07 L377.81,259.50 L377.95,259.12 M379.64,254.41 L379.84,253.84 L380.11,253.30 L380.38,252.76 L380.65,252.21 L380.93,251.67 L381.20,251.12 L381.47,250.58 L381.74,250.04 L382.01,249.49 L382.28,248.95 L382.55,248.41 L382.83,247.86 L383.10,247.32 L383.37,246.78 L383.64,246.23 L383.91,245.69 L384.18,245.15 L384.48,244.62 L384.82,244.11 L385.16,243.60 L385.50,243.09 L385.83,242.59 L385.95,242.42 M388.21,239.04 L388.55,238.53 L388.89,238.02 L389.29,237.57 L389.69,237.11 L390.09,236.66 L390.49,236.21 L390.88,235.75 L391.28,235.30 L391.68,234.84 L392.08,234.39 L392.48,233.94 L392.88,233.48 L393.28,233.03 L393.73,232.61 L394.19,232.20 L394.66,231.79 L395.13,231.39 L395.60,230.98 L395.60,230.98 M398.11,228.84 L398.61,228.51 L399.11,228.18 L399.61,227.85 L400.12,227.52 L400.62,227.19 L401.12,226.86 L401.62,226.53 L402.13,226.20 L402.64,225.89 L403.19,225.63 L403.73,225.37 L404.27,225.11 L404.81,224.85 L405.36,224.59 L405.90,224.33 L406.08,224.24 M408.76,223.22 L409.35,223.03 L409.94,222.84 L410.53,222.64 L411.12,222.45 L411.71,222.28 L412.30,222.16 L412.89,222.04 L413.48,221.93 L414.07,221.81 L414.66,221.69 L415.25,221.58 L415.84,221.46 L416.45,221.39 L417.06,221.34 L417.06,221.34 M419.74,221.13 L420.35,221.08 L420.97,221.08 L421.59,221.10 L422.21,221.12 L422.82,221.14 L423.44,221.16 L424.06,221.19 L424.67,221.21 L425.29,221.25 L425.91,221.34 L426.52,221.43 L427.14,221.52 L427.76,221.61 L427.96,221.64 M430.79,222.18 L431.38,222.33 L431.97,222.49 L432.56,222.64 L433.15,222.79 L433.74,222.95 L434.32,223.12 L434.89,223.33 L435.45,223.54 L436.02,223.74 L436.58,223.95 L437.15,224.16 L437.72,224.37 L438.28,224.58 L438.84,224.81 L438.84,224.81 M441.55,226.11 L442.10,226.37 L442.64,226.64 L443.18,226.90 L443.70,227.21 L444.23,227.52 L444.75,227.83 L445.27,228.14 L445.79,228.45 L446.31,228.77 L446.84,229.08 L447.36,229.39 L447.87,229.72 L448.38,230.08 L448.88,230.44 L449.38,230.80 L449.55,230.92 M452.23,232.85 L452.70,233.25 L453.17,233.65 L453.64,234.05 L454.10,234.45 L454.57,234.85 L455.04,235.25 L455.51,235.65 L455.98,236.05 L456.44,236.45 L456.90,236.85 L457.32,237.28 L457.75,237.71 L458.17,238.13 L458.59,238.56 L459.02,238.99 L459.44,239.41 L459.87,239.84 L459.87,239.84 M462.31,242.48 L462.70,242.94 L463.09,243.40 L463.48,243.86 L463.87,244.31 L464.25,244.77 L464.64,245.23 L465.03,245.69 L465.42,246.15 L465.80,246.60 L466.16,247.10 L466.52,247.60 L466.88,248.10 L467.23,248.60 L467.59,249.09 L467.95,249.59 L468.30,250.09 L468.66,250.59 L469.02,251.09 L469.38,251.58 L469.38,251.58 M471.70,255.19 L472.01,255.71 L472.33,256.24 L472.64,256.76 L472.96,257.29 L473.28,257.81 L473.59,258.34 L473.91,258.86 L474.22,259.39 L474.54,259.91 L474.85,260.44 L475.12,260.98 L475.40,261.53 L475.67,262.08 L475.94,262.63 L476.21,263.18 L476.48,263.72 L476.75,264.27 L477.03,264.82 L477.30,265.37 L477.57,265.92 L477.84,266.46 L478.02,266.83 M479.97,271.06 L480.19,271.63 L480.42,272.19 L480.64,272.75 L480.86,273.31 L481.08,273.87 L481.31,274.43 L481.53,274.99 L481.75,275.55 L481.97,276.11 L482.20,276.67 L482.42,277.23 L482.64,277.80 L482.86,278.36 L483.09,278.92 L483.31,279.48 L483.53,280.04 L483.75,280.60 L483.96,281.17 L484.13,281.74 L484.31,282.31 L484.48,282.89 L484.66,283.46 L484.83,284.04 L485.00,284.61 L485.18,285.19 L485.24,285.38 M486.74,290.35 L486.92,290.93 L487.09,291.50 L487.27,292.08 L487.44,292.65 L487.61,293.23 L487.79,293.80 L487.96,294.37 L488.14,294.95 L488.31,295.52 L488.47,296.10 L488.59,296.69 L488.72,297.29 L488.85,297.88 L488.97,298.47 L489.10,299.06 L489.22,299.65 L489.35,300.24 L489.47,300.83 L489.60,301.42 L489.73,302.02 L489.85,302.61 L489.98,303.20 L490.10,303.79 L490.23,304.38 L490.35,304.97 L490.48,305.56 L490.61,306.15 L490.65,306.35 M491.82,311.87 L491.95,312.46 L492.07,313.05 L492.20,313.64 L492.32,314.23 L492.45,314.83 L492.57,315.42 L492.70,316.01 L492.83,316.60 L492.95,317.19 L493.02,317.79 L493.05,317.99 M94.80,19.53 L95.42,19.64 L96.03,19.75 L96.65,19.86 L97.27,19.98 L97.88,20.09 L98.50,20.20 L99.12,20.31 L99.69,20.54 L100.23,20.82 L100.77,21.10 L101.32,21.38 L101.86,21.66 L102.40,21.95 L102.94,22.23 L103.49,22.51 L104.01,22.82 L104.50,23.20 L104.98,23.58 L105.46,23.95 L105.95,24.33 L106.43,24.71 L106.92,25.09 L107.40,25.47 L107.89,25.84 L108.37,26.22 L108.81,26.64 L109.25,27.06 L109.69,27.47 L110.12,27.89 L110.27,28.03 M115.02,32.75 L115.44,33.20 L115.87,33.64 L116.29,34.09 L116.72,34.53 L117.14,34.98 L117.56,35.43 L117.97,35.87 L118.38,36.32 L118.79,36.77 L119.20,37.22 L119.62,37.67 L120.03,38.12 L120.44,38.56 L120.85,39.01 L121.26,39.46 L121.67,39.91 L122.08,40.36 L122.50,40.81 L122.91,41.26 L123.32,41.71 L123.73,42.16 L124.14,42.61 L124.55,43.06 L124.96,43.51 L125.37,43.96 L125.79,44.42 L126.20,44.87 L126.61,45.31 L127.02,45.76 L127.43,46.20 L127.84,46.65 L128.25,47.09 L128.66,47.54 L129.08,47.98 L129.35,48.28 M133.82,53.04 L134.25,53.48 L134.67,53.93 L135.10,54.38 L135.52,54.82 L135.94,55.26 L136.37,55.69 L136.79,56.13 L137.22,56.56 L137.64,56.99 L138.06,57.43 L138.49,57.86 L138.91,58.30 L139.34,58.73 L139.76,59.16 L140.19,59.60 L140.63,60.03 L141.07,60.47 L141.50,60.90 L141.94,61.34 L142.38,61.77 L142.82,62.20 L143.26,62.64 L143.69,63.07 L144.13,63.51 L144.57,63.94 L145.01,64.36 L145.44,64.78 L145.88,65.20 L146.32,65.62 L146.76,66.04 L147.20,66.47 L147.63,66.89 L148.07,67.31 L148.51,67.73 L148.95,68.15 L149.09,68.29 M154.07,72.92 L154.52,73.33 L154.98,73.74 L155.43,74.15 L155.88,74.56 L156.33,74.97 L156.78,75.38 L157.24,75.79 L157.69,76.20 L158.14,76.61 L158.59,77.01 L159.05,77.41 L159.50,77.81 L159.95,78.21 L160.40,78.61 L160.86,79.01 L161.31,79.41 L161.76,79.81 L162.21,80.21 L162.67,80.60 L163.13,81.01 L163.60,81.41 L164.07,81.82 L164.54,82.22 L165.01,82.63 L165.47,83.03 L165.94,83.43 L166.41,83.84 L166.88,84.24 L167.35,84.64 L167.82,85.04 L168.28,85.44 L168.75,85.83 L169.22,86.23 L169.38,86.36 M174.37,90.54 L174.84,90.93 L175.30,91.32 L175.77,91.71 L176.24,92.10 L176.71,92.49 L177.18,92.87 L177.64,93.25 L178.11,93.64 L178.58,94.02 L179.05,94.40 L179.52,94.79 L179.98,95.17 L180.45,95.55 L180.92,95.94 L181.39,96.31 L181.86,96.69 L182.32,97.07 L182.79,97.45 L183.26,97.83 L183.73,98.21 L184.20,98.59 L184.66,98.97 L185.13,99.35 L185.60,99.72 L186.07,100.10 L186.54,100.47 L187.01,100.85 L187.47,101.23 L187.94,101.60 L188.41,101.98 L188.88,102.35 L189.35,102.73 L189.81,103.10 L189.81,103.10 M194.66,106.96 L195.15,107.35 L195.63,107.73 L196.12,108.12 L196.60,108.50 L197.08,108.89 L197.57,109.27 L198.05,109.66 L198.54,110.04 L199.02,110.43 L199.51,110.81 L199.99,111.19 L200.48,111.58 L200.96,111.96 L201.45,112.35 L201.93,112.73 L202.42,113.11 L202.90,113.50 L203.39,113.88 L203.87,114.27 L204.36,114.65 L204.84,115.03 L205.33,115.42 L205.81,115.80 L206.30,116.19 L206.78,116.57 L207.26,116.95 L207.75,117.34 L208.23,117.72 L208.72,118.11 L209.20,118.49 L209.69,118.88 L210.01,119.14 M214.86,123.00 L215.34,123.38 L215.83,123.77 L216.31,124.16 L216.80,124.54 L217.27,124.92 L217.74,125.30 L218.21,125.68 L218.68,126.05 L219.14,126.43 L219.61,126.80 L220.08,127.18 L220.55,127.56 L221.02,127.93 L221.48,128.31 L221.95,128.69 L222.42,129.07 L222.89,129.45 L223.36,129.83 L223.82,130.21 L224.29,130.58 L224.76,130.96 L225.23,131.34 L225.70,131.72 L226.16,132.10 L226.63,132.49 L227.10,132.87 L227.57,133.26 L228.04,133.64 L228.51,134.02 L228.97,134.41 L229.44,134.79 L229.91,135.17 L230.38,135.56 L230.38,135.56 M235.21,139.57 L235.68,139.97 L236.15,140.36 L236.62,140.76 L237.09,141.15 L237.55,141.54 L238.02,141.94 L238.49,142.33 L238.96,142.73 L239.43,143.12 L239.89,143.52 L240.36,143.92 L240.83,144.32 L241.30,144.72 L241.77,145.12 L242.23,145.53 L242.70,145.93 L243.17,146.33 L243.64,146.73 L244.11,147.13 L244.56,147.52 L245.01,147.92 L245.46,148.31 L245.92,148.71 L246.37,149.10 L246.82,149.50 L247.27,149.89 L247.73,150.29 L248.18,150.68 L248.63,151.08 L249.08,151.48 L249.54,151.88 L249.99,152.29 L250.44,152.69 L250.59,152.82 M255.57,157.31 L256.02,157.72 L256.47,158.13 L256.93,158.54 L257.38,158.96 L257.83,159.37 L258.28,159.80 L258.74,160.22 L259.19,160.64 L259.64,161.06 L260.09,161.49 L260.55,161.91 L261.00,162.33 L261.45,162.75 L261.90,163.18 L262.35,163.60 L262.79,164.02 L263.23,164.44 L263.66,164.86 L264.10,165.28 L264.54,165.70 L264.98,166.12 L265.42,166.54 L265.85,166.96 L266.29,167.38 L266.73,167.80 L267.17,168.23 L267.60,168.66 L268.04,169.10 L268.48,169.53 L268.92,169.96 L269.36,170.39 L269.79,170.83 L270.23,171.26 L270.67,171.69 L270.96,171.98 M275.78,176.88 L276.20,177.32 L276.63,177.77 L277.05,178.22 L277.47,178.67 L277.90,179.11 L278.32,179.56 L278.75,180.01 L279.17,180.46 L279.60,180.90 L280.02,181.35 L280.44,181.80 L280.85,182.25 L281.26,182.70 L281.67,183.15 L282.08,183.60 L282.50,184.05 L282.91,184.50 L283.32,184.95 L283.73,185.40 L284.14,185.85 L284.55,186.30 L284.96,186.75 L285.36,187.20 L285.76,187.66 L286.16,188.11 L286.56,188.56 L286.96,189.02 L287.36,189.47 L287.75,189.93 L288.15,190.38 L288.55,190.84 L288.95,191.29 L289.35,191.74 L289.74,192.21 L289.74,192.21 M293.88,197.12 L294.25,197.59 L294.63,198.06 L295.01,198.53 L295.38,199.00 L295.76,199.47 L296.14,199.94 L296.51,200.40 L296.89,200.87 L297.27,201.34 L297.65,201.81 L298.02,202.28 L298.40,202.75 L298.77,203.23 L299.13,203.71 L299.50,204.19 L299.87,204.67 L300.23,205.15 L300.60,205.63 L300.97,206.11 L301.33,206.60 L301.70,207.08 L302.07,207.56 L302.44,208.04 L302.80,208.52 L303.16,209.01 L303.52,209.50 L303.88,210.00 L304.23,210.49 L304.59,210.99 L304.95,211.48 L305.31,211.97 L305.66,212.47 L305.78,212.63 M309.15,217.44 L309.48,217.94 L309.82,218.44 L310.16,218.94 L310.50,219.44 L310.84,219.94 L311.18,220.44 L311.52,220.94 L311.86,221.44 L312.19,221.94 L312.51,222.45 L312.84,222.96 L313.16,223.47 L313.48,223.98 L313.80,224.49 L314.13,225.00 L314.45,225.51 L314.77,226.02 L315.10,226.53 L315.42,227.04 L315.74,227.55 L316.07,228.05 L316.39,228.56 L316.70,229.08 L317.01,229.61 L317.32,230.13 L317.63,230.66 L317.94,231.18 L318.25,231.71 L318.55,232.23 L318.86,232.75 L318.97,232.93 M321.70,237.68 L321.98,238.21 L322.27,238.75 L322.56,239.28 L322.85,239.82 L323.14,240.35 L323.43,240.89 L323.72,241.42 L324.01,241.96 L324.30,242.49 L324.58,243.03 L324.87,243.56 L325.16,244.10 L325.45,244.63 L325.72,245.17 L325.99,245.72 L326.26,246.26 L326.52,246.80 L326.79,247.35 L327.05,247.89 L327.32,248.44 L327.59,248.98 L327.85,249.52 L328.12,250.07 L328.39,250.61 L328.65,251.16 L328.92,251.70 L329.18,252.25 L329.45,252.79 L329.63,253.15 M331.77,257.95 L332.01,258.51 L332.25,259.06 L332.49,259.62 L332.74,260.17 L332.98,260.73 L333.22,261.28 L333.46,261.84 L333.71,262.40 L333.95,262.95 L334.19,263.51 L334.43,264.06 L334.67,264.62 L334.88,265.19 L335.10,265.76 L335.31,266.32 L335.53,266.89 L335.74,267.45 L335.96,268.02 L336.18,268.59 L336.39,269.15 L336.61,269.72 L336.82,270.29 L337.04,270.85 L337.25,271.42 L337.47,271.99 L337.68,272.55 L337.90,273.12 L338.04,273.50 M339.74,278.26 L339.93,278.84 L340.11,279.41 L340.30,279.99 L340.48,280.57 L340.67,281.15 L340.86,281.73 L341.04,282.31 L341.23,282.89 L341.41,283.46 L341.60,284.04 L341.79,284.62 L341.97,285.20 L342.16,285.78 L342.34,286.36 L342.53,286.94 L342.71,287.51 L342.90,288.09 L343.09,288.67 L343.27,289.25 L343.46,289.83 L343.64,290.41 L343.80,290.99 L343.95,291.57 L344.10,292.16 L344.25,292.74 L344.40,293.32 L344.50,293.71 M345.76,298.57 L345.91,299.15 L346.06,299.74 L346.21,300.32 L346.36,300.90 L346.51,301.48 L346.66,302.07 L346.81,302.65 L346.96,303.23 L347.11,303.82 L347.26,304.40 L347.41,304.98 L347.57,305.57 L347.72,306.15 L347.87,306.73 L348.02,307.31 L348.17,307.90 L348.28,308.49 L348.40,309.08 L348.51,309.67 L348.62,310.26 L348.73,310.85 L348.85,311.44 L348.96,312.03 L349.07,312.63 L349.19,313.22 L349.30,313.81 L349.34,314.00 M377.71,318.05 L377.92,317.48 L378.13,316.90 L378.33,316.33 L378.54,315.76 L378.74,315.19 L378.95,314.62 L379.15,314.04 L379.36,313.47 L379.57,312.90 L379.77,312.33 L380.02,311.78 L380.29,311.23 L380.56,310.69 L380.84,310.15 L381.11,309.61 L381.38,309.07 L381.65,308.53 L381.92,307.99 L382.19,307.45 L382.46,306.91 L382.74,306.37 L382.74,306.37 M384.82,302.45 L385.16,301.95 L385.50,301.44 L385.83,300.94 L386.17,300.44 L386.51,299.93 L386.85,299.43 L387.19,298.92 L387.53,298.42 L387.87,297.92 L388.21,297.41 L388.55,296.91 L388.89,296.40 L389.29,295.95 L389.69,295.50 L390.09,295.05 L390.49,294.60 L390.88,294.15 L391.28,293.70 L391.68,293.25 L391.95,292.95 M394.35,290.49 L394.82,290.09 L395.29,289.69 L395.75,289.29 L396.22,288.88 L396.69,288.48 L397.16,288.08 L397.63,287.68 L398.11,287.29 L398.63,286.96 L399.16,286.62 L399.68,286.28 L400.20,285.94 L400.72,285.60 L401.24,285.27 L401.77,284.93 L402.11,284.70 M404.81,283.37 L405.36,283.11 L405.90,282.85 L406.44,282.60 L406.99,282.34 L407.58,282.15 L408.17,281.96 L408.76,281.77 L409.35,281.58 L409.94,281.39 L410.53,281.20 L411.12,281.00 L411.71,280.84 L412.30,280.73 L412.89,280.61 L413.08,280.58 M415.84,280.05 L416.45,279.98 L417.06,279.94 L417.68,279.89 L418.30,279.85 L418.91,279.81 L419.53,279.76 L420.15,279.72 L420.77,279.70 L421.38,279.72 L422.00,279.74 L422.62,279.77 L423.23,279.79 L423.85,279.82 L424.06,279.82 M426.73,280.11 L427.35,280.20 L427.96,280.30 L428.58,280.39 L429.20,280.48 L429.81,280.60 L430.40,280.75 L430.99,280.91 L431.58,281.06 L432.17,281.22 L432.76,281.37 L433.35,281.53 L433.94,281.69 L434.51,281.88 L434.89,282.02 M437.72,283.08 L438.28,283.29 L438.84,283.52 L439.38,283.78 L439.92,284.05 L440.47,284.31 L441.01,284.57 L441.55,284.84 L442.10,285.10 L442.64,285.36 L443.18,285.63 L443.70,285.94 L444.23,286.25 L444.75,286.57 L445.27,286.88 L445.79,287.20 L445.79,287.20 M448.38,288.83 L448.88,289.19 L449.38,289.56 L449.89,289.92 L450.39,290.28 L450.89,290.65 L451.39,291.01 L451.90,291.37 L452.39,291.75 L452.86,292.15 L453.32,292.55 L453.79,292.95 L454.26,293.35 L454.73,293.75 L455.20,294.15 L455.66,294.55 L456.13,294.96 L456.13,294.96 M458.59,297.34 L459.02,297.77 L459.44,298.20 L459.87,298.62 L460.29,299.05 L460.71,299.48 L461.14,299.91 L461.54,300.36 L461.93,300.81 L462.31,301.27 L462.70,301.73 L463.09,302.19 L463.48,302.65 L463.87,303.11 L464.25,303.57 L464.64,304.03 L465.03,304.49 L465.42,304.95 L465.80,305.41 L466.04,305.74 M468.30,308.90 L468.66,309.40 L469.02,309.90 L469.38,310.40 L469.73,310.89 L470.09,311.39 L470.43,311.90 L470.75,312.43 L471.07,312.95 L471.38,313.48 L471.70,314.00 L472.01,314.53 L472.33,315.05 L472.64,315.58 L472.96,316.10 L473.28,316.63 L473.59,317.16 L473.91,317.68 L474.12,318.03 M94.80,19.53 L95.12,20.03 L95.45,20.54 L95.77,21.04 L96.09,21.55 L96.42,22.06 L96.74,22.56 L97.06,23.07 L97.39,23.57 L97.71,24.08 L98.03,24.59 L98.35,25.09 L98.68,25.60 L99.00,26.11 L99.32,26.61 L99.51,27.19 L99.69,27.76 L99.87,28.34 L100.06,28.91 L100.24,29.49 L100.42,30.06 L100.61,30.63 L100.79,31.21 L100.98,31.78 L101.16,32.36 L101.34,32.93 L101.53,33.51 L101.71,34.08 L101.89,34.66 L102.01,35.04 M103.54,39.83 L103.73,40.40 L103.91,40.98 L104.10,41.55 L104.28,42.13 L104.47,42.71 L104.65,43.28 L104.84,43.86 L105.03,44.43 L105.21,45.01 L105.40,45.59 L105.58,46.16 L105.77,46.74 L105.96,47.31 L106.14,47.89 L106.33,48.46 L106.51,49.04 L106.70,49.62 L106.89,50.19 L107.07,50.77 L107.26,51.34 L107.44,51.92 L107.63,52.49 L107.82,53.07 L108.00,53.65 L108.19,54.22 L108.37,54.80 L108.59,55.37 L108.59,55.37 M110.42,60.31 L110.64,60.88 L110.85,61.45 L111.06,62.02 L111.27,62.59 L111.48,63.16 L111.70,63.73 L111.91,64.30 L112.12,64.87 L112.33,65.44 L112.54,66.01 L112.76,66.58 L112.98,67.15 L113.22,67.70 L113.46,68.26 L113.71,68.82 L113.95,69.38 L114.19,69.94 L114.43,70.49 L114.68,71.05 L114.92,71.61 L115.16,72.17 L115.40,72.73 L115.64,73.28 L115.89,73.84 L116.13,74.40 L116.37,74.96 L116.61,75.51 L116.70,75.70 M118.96,80.44 L119.23,80.98 L119.50,81.52 L119.77,82.07 L120.05,82.61 L120.32,83.15 L120.59,83.69 L120.86,84.23 L121.13,84.77 L121.40,85.31 L121.68,85.86 L121.95,86.40 L122.25,86.93 L122.55,87.46 L122.85,87.99 L123.15,88.52 L123.45,89.05 L123.76,89.58 L124.06,90.10 L124.36,90.63 L124.66,91.16 L124.96,91.69 L125.26,92.22 L125.57,92.75 L125.87,93.28 L126.17,93.81 L126.47,94.34 L126.79,94.85 L127.12,95.36 L127.44,95.87 L127.44,95.87 M130.56,100.78 L130.89,101.28 L131.23,101.78 L131.58,102.28 L131.92,102.78 L132.27,103.27 L132.62,103.77 L132.97,104.26 L133.32,104.76 L133.66,105.26 L134.01,105.75 L134.36,106.25 L134.71,106.75 L135.06,107.24 L135.40,107.74 L135.76,108.22 L136.13,108.70 L136.50,109.18 L136.87,109.67 L137.23,110.15 L137.60,110.63 L137.97,111.11 L138.33,111.59 L138.70,112.07 L139.07,112.55 L139.43,113.03 L139.80,113.51 L140.17,113.99 L140.56,114.46 L140.95,114.93 L141.34,115.40 L141.72,115.87 L141.98,116.19 M146.17,121.15 L146.56,121.60 L146.96,122.06 L147.36,122.51 L147.76,122.97 L148.16,123.42 L148.56,123.88 L148.96,124.33 L149.37,124.78 L149.78,125.22 L150.19,125.66 L150.60,126.10 L151.01,126.55 L151.42,126.99 L151.84,127.43 L152.25,127.87 L152.66,128.32 L153.07,128.76 L153.48,129.20 L153.90,129.64 L154.32,130.07 L154.75,130.51 L155.17,130.94 L155.60,131.38 L156.02,131.81 L156.45,132.24 L156.87,132.68 L157.29,133.11 L157.72,133.55 L158.14,133.98 L158.58,134.41 L159.02,134.84 L159.46,135.27 L159.89,135.70 L160.33,136.13 L160.77,136.56 L160.77,136.56 M165.59,141.17 L166.02,141.58 L166.46,142.00 L166.90,142.41 L167.34,142.82 L167.79,143.24 L168.25,143.65 L168.70,144.07 L169.15,144.48 L169.60,144.89 L170.06,145.31 L170.51,145.72 L170.96,146.13 L171.41,146.55 L171.87,146.96 L172.32,147.36 L172.77,147.76 L173.22,148.16 L173.68,148.57 L174.13,148.97 L174.58,149.37 L175.03,149.77 L175.49,150.17 L175.94,150.58 L176.40,150.98 L176.86,151.39 L177.33,151.79 L177.80,152.20 L178.27,152.61 L178.74,153.01 L179.20,153.42 L179.67,153.83 L180.14,154.23 L180.61,154.64 L181.08,155.04 L181.08,155.04 M185.91,159.16 L186.38,159.55 L186.85,159.94 L187.32,160.33 L187.79,160.73 L188.25,161.12 L188.72,161.51 L189.19,161.90 L189.66,162.30 L190.13,162.69 L190.59,163.08 L191.06,163.46 L191.53,163.85 L192.00,164.24 L192.47,164.63 L192.93,165.02 L193.40,165.40 L193.87,165.79 L194.34,166.18 L194.81,166.56 L195.27,166.95 L195.74,167.33 L196.21,167.72 L196.68,168.10 L197.15,168.49 L197.61,168.87 L198.08,169.26 L198.55,169.64 L199.02,170.03 L199.49,170.41 L199.95,170.79 L200.42,171.17 L200.89,171.55 L201.36,171.94 L201.36,171.94 M206.19,175.88 L206.66,176.26 L207.13,176.64 L207.60,177.02 L208.07,177.41 L208.54,177.79 L209.00,178.17 L209.47,178.55 L209.94,178.93 L210.41,179.31 L210.88,179.69 L211.34,180.07 L211.81,180.45 L212.28,180.84 L212.75,181.22 L213.22,181.60 L213.68,181.98 L214.15,182.36 L214.62,182.74 L215.09,183.13 L215.56,183.51 L216.02,183.89 L216.49,184.27 L216.96,184.65 L217.43,185.04 L217.90,185.42 L218.36,185.80 L218.83,186.19 L219.30,186.57 L219.77,186.95 L220.24,187.34 L220.70,187.72 L221.17,188.10 L221.64,188.49 L221.64,188.49 M226.48,192.48 L226.94,192.87 L227.41,193.26 L227.88,193.65 L228.35,194.04 L228.82,194.43 L229.29,194.82 L229.75,195.21 L230.22,195.60 L230.69,195.99 L231.16,196.39 L231.63,196.78 L232.09,197.17 L232.56,197.57 L233.03,197.96 L233.50,198.36 L233.97,198.75 L234.43,199.14 L234.90,199.54 L235.37,199.93 L235.84,200.33 L236.31,200.73 L236.77,201.13 L237.24,201.53 L237.71,201.93 L238.18,202.33 L238.65,202.73 L239.11,203.13 L239.58,203.53 L240.05,203.93 L240.52,204.34 L240.99,204.74 L241.45,205.15 L241.92,205.56 L241.92,205.56 M246.82,209.84 L247.27,210.24 L247.73,210.64 L248.18,211.04 L248.63,211.44 L249.08,211.84 L249.54,212.25 L249.99,212.66 L250.44,213.06 L250.89,213.47 L251.35,213.88 L251.80,214.28 L252.25,214.69 L252.70,215.10 L253.16,215.50 L253.61,215.92 L254.06,216.34 L254.51,216.75 L254.97,217.17 L255.42,217.58 L255.87,218.00 L256.32,218.41 L256.78,218.83 L257.23,219.25 L257.68,219.66 L258.12,220.07 L258.56,220.49 L258.99,220.90 L259.43,221.31 L259.87,221.72 L260.31,222.13 L260.74,222.54 L261.18,222.96 L261.62,223.37 L262.06,223.78 L262.20,223.92 M267.02,228.58 L267.46,229.01 L267.90,229.45 L268.33,229.88 L268.77,230.32 L269.21,230.75 L269.65,231.19 L270.09,231.62 L270.52,232.06 L270.96,232.49 L271.39,232.93 L271.82,233.36 L272.24,233.80 L272.67,234.23 L273.09,234.67 L273.52,235.10 L273.94,235.53 L274.36,235.97 L274.79,236.40 L275.21,236.84 L275.64,237.27 L276.06,237.72 L276.48,238.17 L276.91,238.62 L277.33,239.06 L277.76,239.51 L278.18,239.96 L278.61,240.41 L279.03,240.86 L279.45,241.31 L279.88,241.76 L280.30,242.21 L280.71,242.66 L281.12,243.11 L281.54,243.57 L281.95,244.02 L281.95,244.02 M286.29,248.85 L286.69,249.31 L287.09,249.76 L287.49,250.22 L287.89,250.68 L288.29,251.13 L288.69,251.59 L289.08,252.04 L289.48,252.50 L289.87,252.96 L290.26,253.43 L290.64,253.89 L291.03,254.35 L291.42,254.81 L291.81,255.28 L292.20,255.74 L292.58,256.20 L292.97,256.66 L293.36,257.12 L293.75,257.59 L294.13,258.05 L294.50,258.52 L294.88,259.00 L295.26,259.47 L295.64,259.94 L296.01,260.41 L296.39,260.88 L296.77,261.35 L297.14,261.82 L297.52,262.29 L297.90,262.76 L298.27,263.23 L298.64,263.71 L299.01,264.19 L299.13,264.35 M302.80,269.17 L303.16,269.66 L303.52,270.16 L303.88,270.65 L304.23,271.15 L304.59,271.64 L304.95,272.14 L305.31,272.64 L305.66,273.13 L306.02,273.63 L306.38,274.12 L306.73,274.62 L307.09,275.11 L307.45,275.61 L307.79,276.11 L308.13,276.61 L308.47,277.11 L308.81,277.61 L309.15,278.11 L309.48,278.61 L309.82,279.11 L310.16,279.62 L310.50,280.12 L310.84,280.62 L311.18,281.12 L311.52,281.62 L311.86,282.12 L312.19,282.63 L312.51,283.14 L312.84,283.65 L313.16,284.16 L313.48,284.67 L313.48,284.67 M316.50,289.43 L316.81,289.95 L317.11,290.48 L317.42,291.00 L317.73,291.53 L318.04,292.05 L318.35,292.58 L318.66,293.11 L318.97,293.63 L319.27,294.16 L319.58,294.68 L319.89,295.21 L320.20,295.73 L320.51,296.26 L320.82,296.78 L321.12,297.31 L321.41,297.85 L321.70,298.38 L321.98,298.92 L322.27,299.46 L322.56,299.99 L322.85,300.53 L323.14,301.06 L323.43,301.60 L323.72,302.13 L324.01,302.67 L324.30,303.21 L324.58,303.74 L324.87,304.28 L325.16,304.81 L325.26,304.99 M327.68,309.89 L327.94,310.43 L328.21,310.97 L328.47,311.52 L328.74,312.06 L329.01,312.61 L329.27,313.15 L329.54,313.70 L329.80,314.24 L330.07,314.79 L330.31,315.34 L330.56,315.90 L330.80,316.46 L331.04,317.01 L331.28,317.57 L331.44,317.94"/>
<path d="M499.3,306.5 L501.7,238" stroke-width="1"/>
</g>
<g clip-path="url(#cb)" fill="none" stroke="#0a0a0a" stroke-width="1.2">
<path d="M94.80,352.76 L95.93,352.78 L97.06,352.81 L98.19,352.84 L99.32,352.87 L100.46,352.90 L101.59,352.94 L102.72,352.97 L103.85,353.01 L104.98,353.06 L106.11,353.10 L107.24,353.15 L108.37,353.20 L109.50,353.25 L110.64,353.30 L111.77,353.36 L112.90,353.42 L114.03,353.48 L115.16,353.54 L116.29,353.61 L117.42,353.67 L118.55,353.74 L119.68,353.81 L120.82,353.89 L121.95,353.96 L123.08,354.04 L124.21,354.12 L125.34,354.20 L126.47,354.29 L127.60,354.37 L128.73,354.46 L129.86,354.55 L131.00,354.64 L132.13,354.74 L133.26,354.83 L134.39,354.93 L135.52,355.03 L136.65,355.13 L137.78,355.23 L138.91,355.34 L140.04,355.45 L141.18,355.55 L142.31,355.66 L143.44,355.78 L144.57,355.89 L145.70,356.01 L146.83,356.12 L147.96,356.24 L149.09,356.37 L150.22,356.49 L151.36,356.61 L152.49,356.74 L153.62,356.87 L154.75,357.00 L155.88,357.13 L157.01,357.26 L158.14,357.39 L159.27,357.53 L160.40,357.67 L161.54,357.81 L162.67,357.95 L163.80,358.09 L164.93,358.23 L166.06,358.38 L167.19,358.52 L168.32,358.67 L169.45,358.82 L170.58,358.97 L171.72,359.12 L172.85,359.27 L173.98,359.43 L175.11,359.58 L176.24,359.74 L177.37,359.90 L178.50,360.06 L179.63,360.22 L180.76,360.38 L181.90,360.55 L183.03,360.71 L184.16,360.88 L185.29,361.05 L186.42,361.23 L187.55,361.41 L188.68,361.59 L189.81,361.79 L190.94,361.99 L192.08,362.19 L193.21,362.41 L194.34,362.63 L195.47,362.87 L196.60,363.11 L197.73,363.37 L198.86,363.63 L199.99,363.91 L201.12,364.21 L202.26,364.52 L203.39,364.84 L204.52,365.18 L205.65,365.53 L206.78,365.90 L207.91,366.29 L209.04,366.70 L210.17,367.12 L211.30,367.57 L212.44,368.04 L213.57,368.52 L214.70,369.03 L215.83,369.57 L216.96,370.12 L218.09,370.70 L219.22,371.31 L220.35,371.94 L221.48,372.59 L222.62,373.28 L223.75,373.99 L224.88,374.73 L226.01,375.49 L227.14,376.29 L228.27,377.12 L229.40,377.98 L230.53,378.87 L231.66,379.79 L232.80,380.75 L233.93,381.74 L235.06,382.77 L236.19,383.82 L237.32,384.91 L238.45,386.04 L239.58,387.20 L240.71,388.39 L241.84,389.62 L242.98,390.88 L244.11,392.18 L245.24,393.52 L246.37,394.89 L247.50,396.30 L248.63,397.75 L249.76,399.25 L250.89,400.80 L252.02,402.42 L253.16,404.10 L254.29,405.85 L255.42,407.68 L256.55,409.55 L257.68,411.44 L258.81,413.33 L259.94,415.21 L261.07,417.09 L262.20,418.96 L263.34,420.84 L264.47,422.74 L265.60,424.66 L266.73,426.61 L267.86,428.58 L268.99,430.57 L270.12,432.58 L271.25,434.61 L272.38,436.65 L273.52,438.70 L274.65,440.75 L275.78,442.81 L276.91,444.87 L278.04,446.92 L279.17,448.97 L280.30,451.01 L281.43,453.04 L282.56,455.05 L283.70,457.04 L284.83,459.01 L285.96,460.96 L287.09,462.88 L288.22,464.77 L289.35,466.62 L290.48,468.44 L291.61,470.22 L292.74,471.95 L293.88,473.64 L295.01,475.28 L296.14,476.87 L297.27,478.41 L298.40,479.90 L299.53,481.34 L300.66,482.73 L301.79,484.08 L302.92,485.38 L304.06,486.64 L305.19,487.85 L306.32,489.02 L307.45,490.15 L308.58,491.23 L309.71,492.27 L310.84,493.28 L311.97,494.24 L313.10,495.17 L314.24,496.06 L315.37,496.91 L316.50,497.72 L317.63,498.50 L318.76,499.24 L319.89,499.95 L321.02,500.63 L322.15,501.28 L323.28,501.89 L324.42,502.48 L325.55,503.03 L326.68,503.56 L327.81,504.05 L328.94,504.52 L330.07,504.97 L331.20,505.39 L332.33,505.78 L333.46,506.15 L334.60,506.49 L335.73,506.82 L336.86,507.12 L337.99,507.40 L339.12,507.66 L340.25,507.90 L341.38,508.13 L342.51,508.33 L343.64,508.52 L344.78,508.70 L345.91,508.85 L347.04,509.00 L348.17,509.13 L349.30,509.25 L350.43,509.35 L351.56,509.45 L352.69,509.53 L353.82,509.60 L354.96,509.67 L356.09,509.73 L357.22,509.77 L358.35,509.81 L359.48,509.84 L360.61,509.86 L361.74,509.87 L362.87,509.88 L364.00,509.88 L365.14,509.87 L366.27,509.85 L367.40,509.83 L368.53,509.80 L369.66,509.76 L370.79,509.72 L371.92,509.67 L373.05,509.62 L374.18,509.56 L375.32,509.49 L376.45,509.42 L377.58,509.35 L378.71,509.27 L379.84,509.19 L380.97,509.10 L382.10,509.01 L383.23,508.92 L384.36,508.82 L385.50,508.72 L386.63,508.62 L387.76,508.51 L388.89,508.40 L390.02,508.29 L391.15,508.18 L392.28,508.06 L393.41,507.95 L394.54,507.83 L395.68,507.72 L396.81,507.60 L397.94,507.48 L399.07,507.36 L400.20,507.24 L401.33,507.13 L402.46,507.01 L403.59,506.89 L404.72,506.77 L405.86,506.66 L406.99,506.55 L408.12,506.44 L409.25,506.33 L410.38,506.22 L411.51,506.11 L412.64,506.01 L413.77,505.91 L414.90,505.82 L416.04,505.72 L417.17,505.63 L418.30,505.55 L419.43,505.46 L420.56,505.38 L421.69,505.30 L422.82,505.23 L423.95,505.15 L425.08,505.08 L426.22,505.02 L427.35,504.95 L428.48,504.89 L429.61,504.83 L430.74,504.77 L431.87,504.71 L433.00,504.66 L434.13,504.61 L435.26,504.56 L436.40,504.51 L437.53,504.46 L438.66,504.42 L439.79,504.38 L440.92,504.34 L442.05,504.30 L443.18,504.26 L444.31,504.23 L445.44,504.20 L446.58,504.16 L447.71,504.13 L448.84,504.10 L449.97,504.08 L451.10,504.05 L452.23,504.03 L453.36,504.00 L454.49,503.98 L455.62,503.96 L456.76,503.94 L457.89,503.92 L459.02,503.90 L460.15,503.88 L461.28,503.86 L462.41,503.84 L463.54,503.83 L464.67,503.81 L465.80,503.80 L466.94,503.78 L468.07,503.77 L469.20,503.75 L470.33,503.74 L471.46,503.72 L472.59,503.71 L473.72,503.70 L474.85,503.68 L475.98,503.67 L477.12,503.66 L478.25,503.64 L479.38,503.63 L480.51,503.62 L481.64,503.60 L482.77,503.59 L483.90,503.57 L485.03,503.56 L486.16,503.54 L487.30,503.52 L488.43,503.51 L489.56,503.49 L490.69,503.47 L491.82,503.45 L492.95,503.43 L494.08,503.41 L495.21,503.38 L496.34,503.36 L497.48,503.34 L498.61,503.31 L499.74,503.28 L500.87,503.25 L502.00,503.22"/>
<path d="M94.80,457.20 L95.48,457.14 L96.16,457.09 L96.84,457.04 L97.51,456.99 L98.19,456.95 L98.87,456.91 L99.55,456.87 L100.23,456.84 L100.91,456.81 L101.59,456.79 L102.27,456.77 L102.94,456.75 L103.62,456.73 L104.30,456.72 L104.98,456.71 L105.66,456.71 L106.34,456.71 L107.02,456.71 L107.69,456.72 L108.37,456.73 L109.05,456.74 L109.73,456.76 L110.18,456.77 M115.16,457.00 L115.84,457.04 L116.52,457.09 L117.20,457.14 L117.87,457.19 L118.55,457.25 L119.23,457.31 L119.91,457.37 L120.59,457.43 L121.27,457.50 L121.95,457.57 L122.63,457.64 L123.30,457.72 L123.98,457.80 L124.66,457.88 L125.34,457.96 L126.02,458.05 L126.70,458.13 L127.38,458.22 L128.05,458.32 L128.73,458.41 L129.41,458.51 L130.09,458.61 L130.54,458.68 M135.52,459.49 L136.20,459.61 L136.88,459.73 L137.56,459.86 L138.23,459.99 L138.91,460.11 L139.59,460.24 L140.27,460.38 L140.95,460.51 L141.63,460.65 L142.31,460.78 L142.99,460.92 L143.66,461.06 L144.34,461.21 L145.02,461.35 L145.70,461.50 L146.38,461.65 L147.06,461.80 L147.74,461.95 L148.41,462.10 L149.09,462.26 L149.77,462.41 L150.45,462.57 L150.90,462.68 M155.88,463.88 L156.56,464.05 L157.24,464.22 L157.92,464.39 L158.59,464.56 L159.27,464.74 L159.95,464.91 L160.63,465.09 L161.31,465.27 L161.99,465.44 L162.67,465.62 L163.35,465.80 L164.02,465.98 L164.70,466.17 L165.38,466.35 L166.06,466.53 L166.74,466.72 L167.42,466.90 L168.10,467.09 L168.77,467.27 L169.45,467.46 L170.13,467.65 L170.81,467.84 L171.26,467.96 M176.01,469.30 L176.69,469.49 L177.37,469.68 L178.05,469.87 L178.73,470.07 L179.41,470.26 L180.09,470.45 L180.76,470.65 L181.44,470.84 L182.12,471.03 L182.80,471.23 L183.48,471.42 L184.16,471.62 L184.84,471.81 L185.52,472.00 L186.19,472.20 L186.87,472.39 L187.55,472.58 L188.23,472.78 L188.91,472.97 L189.59,473.16 L190.27,473.36 L190.94,473.55 L191.40,473.68 M196.37,475.08 L197.05,475.26 L197.73,475.45 L198.41,475.64 L199.09,475.83 L199.77,476.01 L200.45,476.20 L201.12,476.38 L201.80,476.57 L202.48,476.75 L203.16,476.93 L203.84,477.11 L204.52,477.29 L205.20,477.47 L205.88,477.65 L206.55,477.83 L207.23,478.01 L207.91,478.18 L208.59,478.36 L209.27,478.53 L209.95,478.70 L210.63,478.87 L211.30,479.04 L211.76,479.16 M216.73,480.36 L217.41,480.52 L218.09,480.67 L218.77,480.83 L219.45,480.98 L220.13,481.13 L220.81,481.28 L221.48,481.43 L222.16,481.58 L222.84,481.73 L223.52,481.87 L224.20,482.01 L224.88,482.15 L225.56,482.29 L226.24,482.43 L226.91,482.56 L227.59,482.70 L228.27,482.83 L228.95,482.96 L229.63,483.09 L230.31,483.21 L230.99,483.33 L231.66,483.46 L232.12,483.53 M237.09,484.35 L237.77,484.45 L238.45,484.55 L239.13,484.64 L239.81,484.74 L240.49,484.83 L241.17,484.92 L241.84,485.01 L242.52,485.09 L243.20,485.17 L243.88,485.25 L244.56,485.33 L245.24,485.40 L245.92,485.47 L246.60,485.54 L247.27,485.61 L247.95,485.67 L248.63,485.73 L249.31,485.79 L249.99,485.84 L250.67,485.89 L251.35,485.94 L252.02,485.99 L252.48,486.01 M257.23,486.23 L257.91,486.25 L258.58,486.27 L259.26,486.28 L259.94,486.29 L260.62,486.30 L261.30,486.30 L261.98,486.30 L262.66,486.29 L263.34,486.29 L264.01,486.27 L264.69,486.26 L265.37,486.24 L266.05,486.22 L266.73,486.19 L267.41,486.16 L268.09,486.13 L268.76,486.09 L269.44,486.05 L270.12,486.01 L270.80,485.96 L271.48,485.91 L272.16,485.86 L272.61,485.82 M277.59,485.27 L278.27,485.18 L278.94,485.08 L279.62,484.99 L280.30,484.88 L280.98,484.77 L281.66,484.66 L282.34,484.55 L283.02,484.42 L283.70,484.30 L284.37,484.17 L285.05,484.04 L285.73,483.90 L286.41,483.76 L287.09,483.61 L287.77,483.46 L288.45,483.30 L289.12,483.14 L289.80,482.98 L290.48,482.81 L291.16,482.63 L291.84,482.45 L292.52,482.27 L292.97,482.14 M297.95,480.62 L298.63,480.40 L299.30,480.16 L299.91,479.95 L300.47,479.75 L301.04,479.55 L301.60,479.34 L302.17,479.12 L302.74,478.91 L303.30,478.69 L303.87,478.47 L304.43,478.24 L305.00,478.01 L305.56,477.78 L306.13,477.55 L306.69,477.31 L307.26,477.06 L307.83,476.82 L308.39,476.57 L308.96,476.32 L309.52,476.06 L310.09,475.80 L310.65,475.54 L311.22,475.27 L311.78,475.01 L312.35,474.73 L312.92,474.46 L313.29,474.27 M318.19,471.74 L318.76,471.43 L319.33,471.12 L319.89,470.81 L320.46,470.49 L321.02,470.17 L321.59,469.85 L322.15,469.52 L322.72,469.19 L323.28,468.86 L323.85,468.53 L324.42,468.19 L324.98,467.85 L325.55,467.51 L326.11,467.16 L326.68,466.82 L327.24,466.46 L327.81,466.11 L328.37,465.75 L328.94,465.39 L329.51,465.03 L330.07,464.66 L330.64,464.30 L331.20,463.93 L331.77,463.55 L332.33,463.18 L332.90,462.80 L333.46,462.41 L333.65,462.29 M338.55,458.86 L339.12,458.45 L339.69,458.04 L340.25,457.63 L340.74,457.27 L341.22,456.92 L341.71,456.56 L342.19,456.19 L342.67,455.83 L343.16,455.47 L343.64,455.10 L344.13,454.73 L344.61,454.36 L345.10,453.99 L345.58,453.62 L346.07,453.24 L346.55,452.86 L347.04,452.48 L347.52,452.10 L348.01,451.72 L348.49,451.34 L348.98,450.95 L349.46,450.56 L349.95,450.17 L350.43,449.79 L350.92,449.39 L351.40,449.00 L351.89,448.60 L352.37,448.21 L352.85,447.81 L353.34,447.41 L353.82,447.01 L353.99,446.87 M358.83,442.76 L359.32,442.34 L359.80,441.92 L360.29,441.50 L360.77,441.07 L361.26,440.65 L361.74,440.22 L362.23,439.79 L362.71,439.36 L363.20,438.93 L363.68,438.50 L364.17,438.07 L364.65,437.63 L365.14,437.19 L365.62,436.75 L366.11,436.32 L366.59,435.88 L367.07,435.43 L367.56,434.99 L368.04,434.54 L368.53,434.10 L369.01,433.65 L369.50,433.20 L369.98,432.75 L370.47,432.30 L370.95,431.85 L371.44,431.39 L371.92,430.94 L372.41,430.48 L372.89,430.03 L373.38,429.57 L373.86,429.11 L374.18,428.80 M379.03,424.13 L379.52,423.65 L380.00,423.18 L380.49,422.70 L380.97,422.23 L381.46,421.75 L381.94,421.27 L382.43,420.79 L382.91,420.31 L383.39,419.82 L383.88,419.34 L384.36,418.86 L384.79,418.43 L385.21,418.01 L385.64,417.58 L386.06,417.15 L386.49,416.73 L386.91,416.30 L387.33,415.87 L387.76,415.44 L388.18,415.01 L388.61,414.58 L389.03,414.14 L389.45,413.71 L389.88,413.28 L390.30,412.84 L390.73,412.41 L391.15,411.97 L391.58,411.54 L392.00,411.10 L392.42,410.66 L392.85,410.22 L393.27,409.79 L393.70,409.35 L394.12,408.91 L394.26,408.76 M398.93,403.90 L399.35,403.46 L399.78,403.01 L400.20,402.57 L400.62,402.12 L401.05,401.68 L401.47,401.23 L401.90,400.79 L402.32,400.34 L402.75,399.90 L403.17,399.45 L403.59,399.01 L404.02,398.56 L404.44,398.12 L404.87,397.67 L405.29,397.23 L405.71,396.78 L406.14,396.34 L406.56,395.89 L406.99,395.45 L407.41,395.00 L407.84,394.56 L408.26,394.11 L408.68,393.67 L409.11,393.22 L409.53,392.78 L409.96,392.33 L410.38,391.89 L410.80,391.45 L411.23,391.01 L411.65,390.56 L412.08,390.12 L412.50,389.68 L412.93,389.24 L413.35,388.80 L413.77,388.35 L413.77,388.35 M418.44,383.54 L418.86,383.11 L419.29,382.67 L419.71,382.24 L420.14,381.81 L420.56,381.37 L420.98,380.94 L421.41,380.51 L421.83,380.08 L422.26,379.66 L422.68,379.23 L423.11,378.80 L423.53,378.38 L423.95,377.95 L424.44,377.47 L424.92,376.98 L425.41,376.50 L425.89,376.02 L426.38,375.54 L426.86,375.06 L427.35,374.59 L427.83,374.11 L428.32,373.64 L428.80,373.17 L429.29,372.69 L429.77,372.22 L430.26,371.76 L430.74,371.29 L431.22,370.83 L431.71,370.36 L432.19,369.90 L432.68,369.44 L433.16,368.98 L433.65,368.53 L433.81,368.37 M438.66,363.92 L439.14,363.48 L439.63,363.05 L440.11,362.62 L440.60,362.19 L441.08,361.77 L441.57,361.34 L442.05,360.92 L442.54,360.50 L443.02,360.08 L443.51,359.67 L443.99,359.26 L444.47,358.85 L444.96,358.44 L445.44,358.03 L445.93,357.63 L446.41,357.23 L446.90,356.84 L447.38,356.44 L447.87,356.05 L448.35,355.66 L448.84,355.27 L449.32,354.89 L449.81,354.50 L450.29,354.13 L450.78,353.75 L451.26,353.38 L451.75,353.01 L452.23,352.64 L452.72,352.27 L453.20,351.91 L453.69,351.55 L454.17,351.20 L454.17,351.20 M459.02,347.81 L459.58,347.44 L460.15,347.06 L460.71,346.70 L461.28,346.34 L461.85,345.98 L462.41,345.63 L462.98,345.29 L463.54,344.94 L464.11,344.61 L464.67,344.27 L465.24,343.95 L465.80,343.62 L466.37,343.31 L466.94,342.99 L467.50,342.69 L468.07,342.38 L468.63,342.09 L469.20,341.79 L469.76,341.51 L470.33,341.23 L470.89,340.95 L471.46,340.68 L472.03,340.42 L472.59,340.15 L473.16,339.90 L473.72,339.65 L474.29,339.41 L474.48,339.33 M479.38,337.48 L480.06,337.26 L480.74,337.05 L481.41,336.84 L482.09,336.65 L482.77,336.46 L483.45,336.29 L484.13,336.12 L484.81,335.96 L485.49,335.81 L486.16,335.67 L486.84,335.54 L487.52,335.42 L488.20,335.31 L488.88,335.21 L489.56,335.11 L490.24,335.04 L490.92,334.96 L491.59,334.90 L492.27,334.85 L492.95,334.80 L493.63,334.77 L494.31,334.75 L494.76,334.74 M499.51,334.93 L500.19,335.00 L500.87,335.08 L501.55,335.18 L502.00,335.24"/>
</g>
<g stroke="#0a0a0a" stroke-width="1.1" fill="#0a0a0a">
<path d="M130.41,361.54L130.41,365.60M124.91,361.54L135.91,361.54M124.91,365.60L135.91,365.60" fill="none"/>
<path d="M130.41,369.38L130.41,376.35M124.91,369.38L135.91,369.38M124.91,376.35L135.91,376.35" fill="none"/>
<path d="M196.37,318.83L196.37,345.56M190.87,318.83L201.87,318.83M190.87,345.56L201.87,345.56" fill="none"/>
<path d="M196.37,341.20L196.37,374.90M190.87,341.20L201.87,341.20M190.87,374.90L201.87,374.90" fill="none"/>
<path d="M262.88,407.29L262.88,424.14M257.38,407.29L268.38,407.29M257.38,424.14L268.38,424.14" fill="none"/>
<path d="M262.88,415.86L262.88,430.96M257.38,415.86L268.38,415.86M257.38,430.96L268.38,430.96" fill="none"/>
<path d="M333.92,506.20L333.92,508.53M328.42,506.20L339.42,506.20M328.42,508.53L339.42,508.53" fill="none"/>
<circle cx="130.41" cy="363.57" r="4.75" stroke="none"/>
<circle cx="130.41" cy="372.87" r="4.75" stroke="none"/>
<circle cx="196.37" cy="332.20" r="4.75" stroke="none"/>
<circle cx="196.37" cy="358.05" r="4.75" stroke="none"/>
<circle cx="262.88" cy="415.71" r="4.75" stroke="none"/>
<circle cx="262.88" cy="423.41" r="4.75" stroke="none"/>
<circle cx="333.92" cy="507.37" r="4.75" stroke="none"/>
</g>
<g fill="none" stroke="#0a0a0a" stroke-width="1.3">
<path d="M94.8,0.5H502.0V509.4H94.8Z M94.8,306.05H502.0"/>
<path d="M94.80,509.40L94.80,515.90M106.11,0.50L106.11,3.90M106.11,306.05L106.11,309.45M106.11,509.40L106.11,512.80M117.42,0.50L117.42,3.90M117.42,306.05L117.42,309.45M117.42,509.40L117.42,512.80M128.73,0.50L128.73,3.90M128.73,306.05L128.73,309.45M128.73,509.40L128.73,512.80M140.04,0.50L140.04,3.90M140.04,306.05L140.04,309.45M140.04,509.40L140.04,512.80M151.36,0.50L151.36,3.90M151.36,306.05L151.36,309.45M151.36,509.40L151.36,512.80M162.67,0.50L162.67,7.00M162.67,306.05L162.67,312.55M162.67,509.40L162.67,515.90M173.98,0.50L173.98,3.90M173.98,306.05L173.98,309.45M173.98,509.40L173.98,512.80M185.29,0.50L185.29,3.90M185.29,306.05L185.29,309.45M185.29,509.40L185.29,512.80M196.60,0.50L196.60,3.90M196.60,306.05L196.60,309.45M196.60,509.40L196.60,512.80M207.91,0.50L207.91,3.90M207.91,306.05L207.91,309.45M207.91,509.40L207.91,512.80M219.22,0.50L219.22,3.90M219.22,306.05L219.22,309.45M219.22,509.40L219.22,512.80M230.53,0.50L230.53,7.00M230.53,306.05L230.53,312.55M230.53,509.40L230.53,515.90M241.84,0.50L241.84,3.90M241.84,306.05L241.84,309.45M241.84,509.40L241.84,512.80M253.16,0.50L253.16,3.90M253.16,306.05L253.16,309.45M253.16,509.40L253.16,512.80M264.47,0.50L264.47,3.90M264.47,306.05L264.47,309.45M264.47,509.40L264.47,512.80M275.78,0.50L275.78,3.90M275.78,306.05L275.78,309.45M275.78,509.40L275.78,512.80M287.09,0.50L287.09,3.90M287.09,306.05L287.09,309.45M287.09,509.40L287.09,512.80M298.40,0.50L298.40,7.00M298.40,306.05L298.40,312.55M298.40,509.40L298.40,515.90M309.71,0.50L309.71,3.90M309.71,306.05L309.71,309.45M309.71,509.40L309.71,512.80M321.02,0.50L321.02,3.90M321.02,306.05L321.02,309.45M321.02,509.40L321.02,512.80M332.33,0.50L332.33,3.90M332.33,306.05L332.33,309.45M332.33,509.40L332.33,512.80M343.64,0.50L343.64,3.90M343.64,306.05L343.64,309.45M343.64,509.40L343.64,512.80M354.96,0.50L354.96,3.90M354.96,306.05L354.96,309.45M354.96,509.40L354.96,512.80M366.27,0.50L366.27,7.00M366.27,306.05L366.27,312.55M366.27,509.40L366.27,515.90M377.58,0.50L377.58,3.90M377.58,306.05L377.58,309.45M377.58,509.40L377.58,512.80M388.89,0.50L388.89,3.90M388.89,306.05L388.89,309.45M388.89,509.40L388.89,512.80M400.20,0.50L400.20,3.90M400.20,306.05L400.20,309.45M400.20,509.40L400.20,512.80M411.51,0.50L411.51,3.90M411.51,306.05L411.51,309.45M411.51,509.40L411.51,512.80M422.82,0.50L422.82,3.90M422.82,306.05L422.82,309.45M422.82,509.40L422.82,512.80M434.13,0.50L434.13,7.00M434.13,306.05L434.13,312.55M434.13,509.40L434.13,515.90M445.44,0.50L445.44,3.90M445.44,306.05L445.44,309.45M445.44,509.40L445.44,512.80M456.76,0.50L456.76,3.90M456.76,306.05L456.76,309.45M456.76,509.40L456.76,512.80M468.07,0.50L468.07,3.90M468.07,306.05L468.07,309.45M468.07,509.40L468.07,512.80M479.38,0.50L479.38,3.90M479.38,306.05L479.38,309.45M479.38,509.40L479.38,512.80M490.69,0.50L490.69,3.90M490.69,306.05L490.69,309.45M490.69,509.40L490.69,512.80M502.00,509.40L502.00,515.90M91.30,306.05L94.80,306.05M498.50,306.05L502.00,306.05M91.30,295.29L94.80,295.29M498.50,295.29L502.00,295.29M91.30,287.65L94.80,287.65M498.50,287.65L502.00,287.65M91.30,281.73L94.80,281.73M498.50,281.73L502.00,281.73M91.30,276.89L94.80,276.89M498.50,276.89L502.00,276.89M91.30,272.80L94.80,272.80M498.50,272.80L502.00,272.80M91.30,269.26L94.80,269.26M498.50,269.26L502.00,269.26M91.30,266.13L94.80,266.13M498.50,266.13L502.00,266.13M88.10,263.34L94.80,263.34M495.30,263.34L502.00,263.34M91.30,244.94L94.80,244.94M498.50,244.94L502.00,244.94M91.30,234.18L94.80,234.18M498.50,234.18L502.00,234.18M91.30,226.54L94.80,226.54M498.50,226.54L502.00,226.54M91.30,220.62L94.80,220.62M498.50,220.62L502.00,220.62M91.30,215.78L94.80,215.78M498.50,215.78L502.00,215.78M91.30,211.69L94.80,211.69M498.50,211.69L502.00,211.69M91.30,208.15L94.80,208.15M498.50,208.15L502.00,208.15M91.30,205.02L94.80,205.02M498.50,205.02L502.00,205.02M88.10,202.23L94.80,202.23M495.30,202.23L502.00,202.23M91.30,183.83L94.80,183.83M498.50,183.83L502.00,183.83M91.30,173.07L94.80,173.07M498.50,173.07L502.00,173.07M91.30,165.43L94.80,165.43M498.50,165.43L502.00,165.43M91.30,159.51L94.80,159.51M498.50,159.51L502.00,159.51M91.30,154.67L94.80,154.67M498.50,154.67L502.00,154.67M91.30,150.58L94.80,150.58M498.50,150.58L502.00,150.58M91.30,147.04L94.80,147.04M498.50,147.04L502.00,147.04M91.30,143.91L94.80,143.91M498.50,143.91L502.00,143.91M88.10,141.12L94.80,141.12M495.30,141.12L502.00,141.12M91.30,122.72L94.80,122.72M498.50,122.72L502.00,122.72M91.30,111.96L94.80,111.96M498.50,111.96L502.00,111.96M91.30,104.32L94.80,104.32M498.50,104.32L502.00,104.32M91.30,98.40L94.80,98.40M498.50,98.40L502.00,98.40M91.30,93.56L94.80,93.56M498.50,93.56L502.00,93.56M91.30,89.47L94.80,89.47M498.50,89.47L502.00,89.47M91.30,85.93L94.80,85.93M498.50,85.93L502.00,85.93M91.30,82.80L94.80,82.80M498.50,82.80L502.00,82.80M88.10,80.01L94.80,80.01M495.30,80.01L502.00,80.01M91.30,61.61L94.80,61.61M498.50,61.61L502.00,61.61M91.30,50.85L94.80,50.85M498.50,50.85L502.00,50.85M91.30,43.21L94.80,43.21M498.50,43.21L502.00,43.21M91.30,37.29L94.80,37.29M498.50,37.29L502.00,37.29M91.30,32.45L94.80,32.45M498.50,32.45L502.00,32.45M91.30,28.36L94.80,28.36M498.50,28.36L502.00,28.36M91.30,24.82L94.80,24.82M498.50,24.82L502.00,24.82M91.30,21.69L94.80,21.69M498.50,21.69L502.00,21.69M88.10,18.90L94.80,18.90M495.30,18.90L502.00,18.90M91.30,0.50L94.80,0.50M498.50,0.50L502.00,0.50M88.10,509.40L94.80,509.40M495.30,509.40L502.00,509.40M91.30,497.78L94.80,497.78M498.50,497.78L502.00,497.78M91.30,486.16L94.80,486.16M498.50,486.16L502.00,486.16M91.30,474.54L94.80,474.54M498.50,474.54L502.00,474.54M91.30,462.92L94.80,462.92M498.50,462.92L502.00,462.92M88.10,451.30L94.80,451.30M495.30,451.30L502.00,451.30M91.30,439.68L94.80,439.68M498.50,439.68L502.00,439.68M91.30,428.06L94.80,428.06M498.50,428.06L502.00,428.06M91.30,416.44L94.80,416.44M498.50,416.44L502.00,416.44M91.30,404.82L94.80,404.82M498.50,404.82L502.00,404.82M88.10,393.20L94.80,393.20M495.30,393.20L502.00,393.20M91.30,381.58L94.80,381.58M498.50,381.58L502.00,381.58M91.30,369.96L94.80,369.96M498.50,369.96L502.00,369.96M91.30,358.34L94.80,358.34M498.50,358.34L502.00,358.34M91.30,346.72L94.80,346.72M498.50,346.72L502.00,346.72M88.10,335.10L94.80,335.10M495.30,335.10L502.00,335.10M91.30,323.48L94.80,323.48M498.50,323.48L502.00,323.48M91.30,311.86L94.80,311.86M498.50,311.86L502.00,311.86" stroke-width="1.25"/>
</g>
<g fill="#0a0a0a">
<text x="40.0" y="26.4" class="tl">10<tspan class="sup" dx="0.9" dy="-7.0">1</tspan></text>
<text x="40.0" y="87.5" class="tl">10<tspan class="sup" dx="0.9" dy="-7.0">0</tspan></text>
<text x="40.0" y="148.6" class="tl">10<tspan class="sup" dx="0.9" dy="-7.0">-1</tspan></text>
<text x="40.0" y="209.7" class="tl">10<tspan class="sup" dx="0.9" dy="-7.0">-2</tspan></text>
<text x="40.0" y="270.8" class="tl">10<tspan class="sup" dx="0.9" dy="-7.0">-3</tspan></text>
<text x="78.0" y="517.1" class="tl" text-anchor="end">0</text>
<text x="78.0" y="459.0" class="tl" text-anchor="end">2</text>
<text x="78.0" y="400.9" class="tl" text-anchor="end">4</text>
<text x="78.0" y="342.8" class="tl" text-anchor="end">6</text>
<text x="95.0" y="547.2" class="tl" text-anchor="middle">0</text>
<text x="162.9" y="547.2" class="tl" text-anchor="middle">30</text>
<text x="230.7" y="547.2" class="tl" text-anchor="middle">60</text>
<text x="298.6" y="547.2" class="tl" text-anchor="middle">90</text>
<text x="366.5" y="547.2" class="tl" text-anchor="middle">120</text>
<text x="434.3" y="547.2" class="tl" text-anchor="middle">150</text>
<text x="502.2" y="547.2" class="tl" text-anchor="middle">180</text>
<text x="241.5" y="44.2" class="big">HH</text>
<text x="376" y="109.9" class="big">VH</text>
<text x="421" y="39.9" class="pl">(a)</text>
<text x="421" y="337.3" class="pl">(b)</text>
<text x="299.4" y="92.6" class="sm">100</text>
<text x="285.4" y="124.8" class="sm">1</text>
<text x="274.9" y="163.5" class="sm">0.1</text>
<text x="266.1" y="220.5" class="sm">0.01</text>
<text x="254.1" y="282.2" class="sm">0.001</text>
<text x="295.6" y="602.0" class="ax" text-anchor="middle">Scattering angle (degree)</text>
<text transform="translate(18.6,149.8) rotate(-90)" class="ax" text-anchor="middle">Spike intensity</text>
<text transform="translate(31.6,407.8) rotate(-90)" class="ax" style="font-size:25.8px" text-anchor="middle">Intensity ratio</text>
</g></svg>
</body></html>
